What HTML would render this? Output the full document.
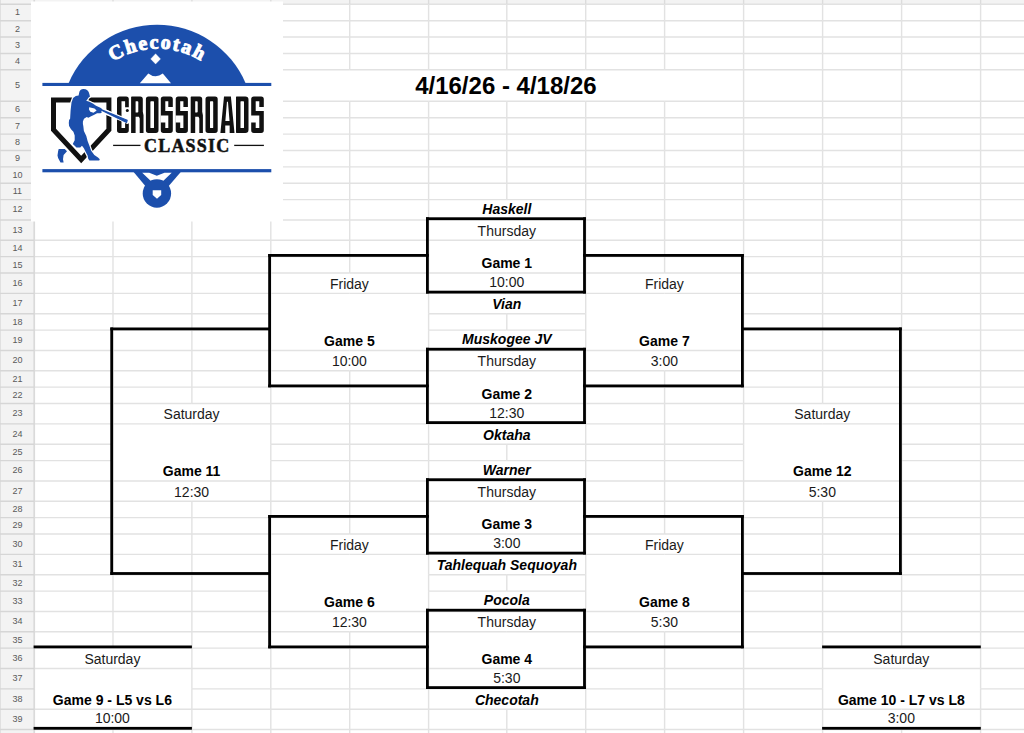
<!DOCTYPE html>
<html><head><meta charset="utf-8"><title>Bracket</title>
<style>html,body{margin:0;padding:0;background:#fff;width:1024px;height:733px;overflow:hidden;position:relative}</style>
</head><body>
<svg width="1024" height="733" viewBox="0 0 1024 733" style="position:absolute;left:0;top:0">
<rect x="0" y="0" width="1024" height="733" fill="#fff"/>
<rect x="0" y="0" width="1024" height="4.3" fill="#f3f3f3"/>
<rect x="0" y="0" width="34.4" height="733" fill="#f3f3f3"/>
<rect x="0" y="0" width="1" height="733" fill="#e0e0e0"/>
<line x1="34.4" y1="4.3" x2="113.0" y2="4.3" stroke="#e2e2e2" stroke-width="1.4"/>
<line x1="113.0" y1="4.3" x2="191.9" y2="4.3" stroke="#e2e2e2" stroke-width="1.4"/>
<line x1="191.9" y1="4.3" x2="270.8" y2="4.3" stroke="#e2e2e2" stroke-width="1.4"/>
<line x1="270.8" y1="4.3" x2="349.7" y2="4.3" stroke="#e2e2e2" stroke-width="1.4"/>
<line x1="349.7" y1="4.3" x2="428.6" y2="4.3" stroke="#e2e2e2" stroke-width="1.4"/>
<line x1="428.6" y1="4.3" x2="506.8" y2="4.3" stroke="#e2e2e2" stroke-width="1.4"/>
<line x1="506.8" y1="4.3" x2="585.7" y2="4.3" stroke="#e2e2e2" stroke-width="1.4"/>
<line x1="585.7" y1="4.3" x2="664.6" y2="4.3" stroke="#e2e2e2" stroke-width="1.4"/>
<line x1="664.6" y1="4.3" x2="743.6" y2="4.3" stroke="#e2e2e2" stroke-width="1.4"/>
<line x1="743.6" y1="4.3" x2="822.6" y2="4.3" stroke="#e2e2e2" stroke-width="1.4"/>
<line x1="822.6" y1="4.3" x2="901.6" y2="4.3" stroke="#e2e2e2" stroke-width="1.4"/>
<line x1="901.6" y1="4.3" x2="980.6" y2="4.3" stroke="#e2e2e2" stroke-width="1.4"/>
<line x1="980.6" y1="4.3" x2="1059.6" y2="4.3" stroke="#e2e2e2" stroke-width="1.4"/>
<line x1="34.4" y1="20.68" x2="113.0" y2="20.68" stroke="#e2e2e2" stroke-width="1.4"/>
<line x1="113.0" y1="20.68" x2="191.9" y2="20.68" stroke="#e2e2e2" stroke-width="1.4"/>
<line x1="191.9" y1="20.68" x2="270.8" y2="20.68" stroke="#e2e2e2" stroke-width="1.4"/>
<line x1="270.8" y1="20.68" x2="349.7" y2="20.68" stroke="#e2e2e2" stroke-width="1.4"/>
<line x1="349.7" y1="20.68" x2="428.6" y2="20.68" stroke="#e2e2e2" stroke-width="1.4"/>
<line x1="428.6" y1="20.68" x2="506.8" y2="20.68" stroke="#e2e2e2" stroke-width="1.4"/>
<line x1="506.8" y1="20.68" x2="585.7" y2="20.68" stroke="#e2e2e2" stroke-width="1.4"/>
<line x1="585.7" y1="20.68" x2="664.6" y2="20.68" stroke="#e2e2e2" stroke-width="1.4"/>
<line x1="664.6" y1="20.68" x2="743.6" y2="20.68" stroke="#e2e2e2" stroke-width="1.4"/>
<line x1="743.6" y1="20.68" x2="822.6" y2="20.68" stroke="#e2e2e2" stroke-width="1.4"/>
<line x1="822.6" y1="20.68" x2="901.6" y2="20.68" stroke="#e2e2e2" stroke-width="1.4"/>
<line x1="901.6" y1="20.68" x2="980.6" y2="20.68" stroke="#e2e2e2" stroke-width="1.4"/>
<line x1="980.6" y1="20.68" x2="1059.6" y2="20.68" stroke="#e2e2e2" stroke-width="1.4"/>
<line x1="34.4" y1="37.06" x2="113.0" y2="37.06" stroke="#e2e2e2" stroke-width="1.4"/>
<line x1="113.0" y1="37.06" x2="191.9" y2="37.06" stroke="#e2e2e2" stroke-width="1.4"/>
<line x1="191.9" y1="37.06" x2="270.8" y2="37.06" stroke="#e2e2e2" stroke-width="1.4"/>
<line x1="270.8" y1="37.06" x2="349.7" y2="37.06" stroke="#e2e2e2" stroke-width="1.4"/>
<line x1="349.7" y1="37.06" x2="428.6" y2="37.06" stroke="#e2e2e2" stroke-width="1.4"/>
<line x1="428.6" y1="37.06" x2="506.8" y2="37.06" stroke="#e2e2e2" stroke-width="1.4"/>
<line x1="506.8" y1="37.06" x2="585.7" y2="37.06" stroke="#e2e2e2" stroke-width="1.4"/>
<line x1="585.7" y1="37.06" x2="664.6" y2="37.06" stroke="#e2e2e2" stroke-width="1.4"/>
<line x1="664.6" y1="37.06" x2="743.6" y2="37.06" stroke="#e2e2e2" stroke-width="1.4"/>
<line x1="743.6" y1="37.06" x2="822.6" y2="37.06" stroke="#e2e2e2" stroke-width="1.4"/>
<line x1="822.6" y1="37.06" x2="901.6" y2="37.06" stroke="#e2e2e2" stroke-width="1.4"/>
<line x1="901.6" y1="37.06" x2="980.6" y2="37.06" stroke="#e2e2e2" stroke-width="1.4"/>
<line x1="980.6" y1="37.06" x2="1059.6" y2="37.06" stroke="#e2e2e2" stroke-width="1.4"/>
<line x1="34.4" y1="53.44" x2="113.0" y2="53.44" stroke="#e2e2e2" stroke-width="1.4"/>
<line x1="113.0" y1="53.44" x2="191.9" y2="53.44" stroke="#e2e2e2" stroke-width="1.4"/>
<line x1="191.9" y1="53.44" x2="270.8" y2="53.44" stroke="#e2e2e2" stroke-width="1.4"/>
<line x1="270.8" y1="53.44" x2="349.7" y2="53.44" stroke="#e2e2e2" stroke-width="1.4"/>
<line x1="349.7" y1="53.44" x2="428.6" y2="53.44" stroke="#e2e2e2" stroke-width="1.4"/>
<line x1="428.6" y1="53.44" x2="506.8" y2="53.44" stroke="#e2e2e2" stroke-width="1.4"/>
<line x1="506.8" y1="53.44" x2="585.7" y2="53.44" stroke="#e2e2e2" stroke-width="1.4"/>
<line x1="585.7" y1="53.44" x2="664.6" y2="53.44" stroke="#e2e2e2" stroke-width="1.4"/>
<line x1="664.6" y1="53.44" x2="743.6" y2="53.44" stroke="#e2e2e2" stroke-width="1.4"/>
<line x1="743.6" y1="53.44" x2="822.6" y2="53.44" stroke="#e2e2e2" stroke-width="1.4"/>
<line x1="822.6" y1="53.44" x2="901.6" y2="53.44" stroke="#e2e2e2" stroke-width="1.4"/>
<line x1="901.6" y1="53.44" x2="980.6" y2="53.44" stroke="#e2e2e2" stroke-width="1.4"/>
<line x1="980.6" y1="53.44" x2="1059.6" y2="53.44" stroke="#e2e2e2" stroke-width="1.4"/>
<line x1="34.4" y1="69.82" x2="113.0" y2="69.82" stroke="#e2e2e2" stroke-width="1.4"/>
<line x1="113.0" y1="69.82" x2="191.9" y2="69.82" stroke="#e2e2e2" stroke-width="1.4"/>
<line x1="191.9" y1="69.82" x2="270.8" y2="69.82" stroke="#e2e2e2" stroke-width="1.4"/>
<line x1="270.8" y1="69.82" x2="349.7" y2="69.82" stroke="#e2e2e2" stroke-width="1.4"/>
<line x1="349.7" y1="69.82" x2="428.6" y2="69.82" stroke="#e2e2e2" stroke-width="1.4"/>
<line x1="428.6" y1="69.82" x2="506.8" y2="69.82" stroke="#e2e2e2" stroke-width="1.4"/>
<line x1="506.8" y1="69.82" x2="585.7" y2="69.82" stroke="#e2e2e2" stroke-width="1.4"/>
<line x1="585.7" y1="69.82" x2="664.6" y2="69.82" stroke="#e2e2e2" stroke-width="1.4"/>
<line x1="664.6" y1="69.82" x2="743.6" y2="69.82" stroke="#e2e2e2" stroke-width="1.4"/>
<line x1="743.6" y1="69.82" x2="822.6" y2="69.82" stroke="#e2e2e2" stroke-width="1.4"/>
<line x1="822.6" y1="69.82" x2="901.6" y2="69.82" stroke="#e2e2e2" stroke-width="1.4"/>
<line x1="901.6" y1="69.82" x2="980.6" y2="69.82" stroke="#e2e2e2" stroke-width="1.4"/>
<line x1="980.6" y1="69.82" x2="1059.6" y2="69.82" stroke="#e2e2e2" stroke-width="1.4"/>
<line x1="34.4" y1="101.32" x2="113.0" y2="101.32" stroke="#e2e2e2" stroke-width="1.4"/>
<line x1="113.0" y1="101.32" x2="191.9" y2="101.32" stroke="#e2e2e2" stroke-width="1.4"/>
<line x1="191.9" y1="101.32" x2="270.8" y2="101.32" stroke="#e2e2e2" stroke-width="1.4"/>
<line x1="270.8" y1="101.32" x2="349.7" y2="101.32" stroke="#e2e2e2" stroke-width="1.4"/>
<line x1="349.7" y1="101.32" x2="428.6" y2="101.32" stroke="#e2e2e2" stroke-width="1.4"/>
<line x1="428.6" y1="101.32" x2="506.8" y2="101.32" stroke="#e2e2e2" stroke-width="1.4"/>
<line x1="506.8" y1="101.32" x2="585.7" y2="101.32" stroke="#e2e2e2" stroke-width="1.4"/>
<line x1="585.7" y1="101.32" x2="664.6" y2="101.32" stroke="#e2e2e2" stroke-width="1.4"/>
<line x1="664.6" y1="101.32" x2="743.6" y2="101.32" stroke="#e2e2e2" stroke-width="1.4"/>
<line x1="743.6" y1="101.32" x2="822.6" y2="101.32" stroke="#e2e2e2" stroke-width="1.4"/>
<line x1="822.6" y1="101.32" x2="901.6" y2="101.32" stroke="#e2e2e2" stroke-width="1.4"/>
<line x1="901.6" y1="101.32" x2="980.6" y2="101.32" stroke="#e2e2e2" stroke-width="1.4"/>
<line x1="980.6" y1="101.32" x2="1059.6" y2="101.32" stroke="#e2e2e2" stroke-width="1.4"/>
<line x1="34.4" y1="117.7" x2="113.0" y2="117.7" stroke="#e2e2e2" stroke-width="1.4"/>
<line x1="113.0" y1="117.7" x2="191.9" y2="117.7" stroke="#e2e2e2" stroke-width="1.4"/>
<line x1="191.9" y1="117.7" x2="270.8" y2="117.7" stroke="#e2e2e2" stroke-width="1.4"/>
<line x1="270.8" y1="117.7" x2="349.7" y2="117.7" stroke="#e2e2e2" stroke-width="1.4"/>
<line x1="349.7" y1="117.7" x2="428.6" y2="117.7" stroke="#e2e2e2" stroke-width="1.4"/>
<line x1="428.6" y1="117.7" x2="506.8" y2="117.7" stroke="#e2e2e2" stroke-width="1.4"/>
<line x1="506.8" y1="117.7" x2="585.7" y2="117.7" stroke="#e2e2e2" stroke-width="1.4"/>
<line x1="585.7" y1="117.7" x2="664.6" y2="117.7" stroke="#e2e2e2" stroke-width="1.4"/>
<line x1="664.6" y1="117.7" x2="743.6" y2="117.7" stroke="#e2e2e2" stroke-width="1.4"/>
<line x1="743.6" y1="117.7" x2="822.6" y2="117.7" stroke="#e2e2e2" stroke-width="1.4"/>
<line x1="822.6" y1="117.7" x2="901.6" y2="117.7" stroke="#e2e2e2" stroke-width="1.4"/>
<line x1="901.6" y1="117.7" x2="980.6" y2="117.7" stroke="#e2e2e2" stroke-width="1.4"/>
<line x1="980.6" y1="117.7" x2="1059.6" y2="117.7" stroke="#e2e2e2" stroke-width="1.4"/>
<line x1="34.4" y1="134.08" x2="113.0" y2="134.08" stroke="#e2e2e2" stroke-width="1.4"/>
<line x1="113.0" y1="134.08" x2="191.9" y2="134.08" stroke="#e2e2e2" stroke-width="1.4"/>
<line x1="191.9" y1="134.08" x2="270.8" y2="134.08" stroke="#e2e2e2" stroke-width="1.4"/>
<line x1="270.8" y1="134.08" x2="349.7" y2="134.08" stroke="#e2e2e2" stroke-width="1.4"/>
<line x1="349.7" y1="134.08" x2="428.6" y2="134.08" stroke="#e2e2e2" stroke-width="1.4"/>
<line x1="428.6" y1="134.08" x2="506.8" y2="134.08" stroke="#e2e2e2" stroke-width="1.4"/>
<line x1="506.8" y1="134.08" x2="585.7" y2="134.08" stroke="#e2e2e2" stroke-width="1.4"/>
<line x1="585.7" y1="134.08" x2="664.6" y2="134.08" stroke="#e2e2e2" stroke-width="1.4"/>
<line x1="664.6" y1="134.08" x2="743.6" y2="134.08" stroke="#e2e2e2" stroke-width="1.4"/>
<line x1="743.6" y1="134.08" x2="822.6" y2="134.08" stroke="#e2e2e2" stroke-width="1.4"/>
<line x1="822.6" y1="134.08" x2="901.6" y2="134.08" stroke="#e2e2e2" stroke-width="1.4"/>
<line x1="901.6" y1="134.08" x2="980.6" y2="134.08" stroke="#e2e2e2" stroke-width="1.4"/>
<line x1="980.6" y1="134.08" x2="1059.6" y2="134.08" stroke="#e2e2e2" stroke-width="1.4"/>
<line x1="34.4" y1="150.46" x2="113.0" y2="150.46" stroke="#e2e2e2" stroke-width="1.4"/>
<line x1="113.0" y1="150.46" x2="191.9" y2="150.46" stroke="#e2e2e2" stroke-width="1.4"/>
<line x1="191.9" y1="150.46" x2="270.8" y2="150.46" stroke="#e2e2e2" stroke-width="1.4"/>
<line x1="270.8" y1="150.46" x2="349.7" y2="150.46" stroke="#e2e2e2" stroke-width="1.4"/>
<line x1="349.7" y1="150.46" x2="428.6" y2="150.46" stroke="#e2e2e2" stroke-width="1.4"/>
<line x1="428.6" y1="150.46" x2="506.8" y2="150.46" stroke="#e2e2e2" stroke-width="1.4"/>
<line x1="506.8" y1="150.46" x2="585.7" y2="150.46" stroke="#e2e2e2" stroke-width="1.4"/>
<line x1="585.7" y1="150.46" x2="664.6" y2="150.46" stroke="#e2e2e2" stroke-width="1.4"/>
<line x1="664.6" y1="150.46" x2="743.6" y2="150.46" stroke="#e2e2e2" stroke-width="1.4"/>
<line x1="743.6" y1="150.46" x2="822.6" y2="150.46" stroke="#e2e2e2" stroke-width="1.4"/>
<line x1="822.6" y1="150.46" x2="901.6" y2="150.46" stroke="#e2e2e2" stroke-width="1.4"/>
<line x1="901.6" y1="150.46" x2="980.6" y2="150.46" stroke="#e2e2e2" stroke-width="1.4"/>
<line x1="980.6" y1="150.46" x2="1059.6" y2="150.46" stroke="#e2e2e2" stroke-width="1.4"/>
<line x1="34.4" y1="166.84" x2="113.0" y2="166.84" stroke="#e2e2e2" stroke-width="1.4"/>
<line x1="113.0" y1="166.84" x2="191.9" y2="166.84" stroke="#e2e2e2" stroke-width="1.4"/>
<line x1="191.9" y1="166.84" x2="270.8" y2="166.84" stroke="#e2e2e2" stroke-width="1.4"/>
<line x1="270.8" y1="166.84" x2="349.7" y2="166.84" stroke="#e2e2e2" stroke-width="1.4"/>
<line x1="349.7" y1="166.84" x2="428.6" y2="166.84" stroke="#e2e2e2" stroke-width="1.4"/>
<line x1="428.6" y1="166.84" x2="506.8" y2="166.84" stroke="#e2e2e2" stroke-width="1.4"/>
<line x1="506.8" y1="166.84" x2="585.7" y2="166.84" stroke="#e2e2e2" stroke-width="1.4"/>
<line x1="585.7" y1="166.84" x2="664.6" y2="166.84" stroke="#e2e2e2" stroke-width="1.4"/>
<line x1="664.6" y1="166.84" x2="743.6" y2="166.84" stroke="#e2e2e2" stroke-width="1.4"/>
<line x1="743.6" y1="166.84" x2="822.6" y2="166.84" stroke="#e2e2e2" stroke-width="1.4"/>
<line x1="822.6" y1="166.84" x2="901.6" y2="166.84" stroke="#e2e2e2" stroke-width="1.4"/>
<line x1="901.6" y1="166.84" x2="980.6" y2="166.84" stroke="#e2e2e2" stroke-width="1.4"/>
<line x1="980.6" y1="166.84" x2="1059.6" y2="166.84" stroke="#e2e2e2" stroke-width="1.4"/>
<line x1="34.4" y1="183.22" x2="113.0" y2="183.22" stroke="#e2e2e2" stroke-width="1.4"/>
<line x1="113.0" y1="183.22" x2="191.9" y2="183.22" stroke="#e2e2e2" stroke-width="1.4"/>
<line x1="191.9" y1="183.22" x2="270.8" y2="183.22" stroke="#e2e2e2" stroke-width="1.4"/>
<line x1="270.8" y1="183.22" x2="349.7" y2="183.22" stroke="#e2e2e2" stroke-width="1.4"/>
<line x1="349.7" y1="183.22" x2="428.6" y2="183.22" stroke="#e2e2e2" stroke-width="1.4"/>
<line x1="428.6" y1="183.22" x2="506.8" y2="183.22" stroke="#e2e2e2" stroke-width="1.4"/>
<line x1="506.8" y1="183.22" x2="585.7" y2="183.22" stroke="#e2e2e2" stroke-width="1.4"/>
<line x1="585.7" y1="183.22" x2="664.6" y2="183.22" stroke="#e2e2e2" stroke-width="1.4"/>
<line x1="664.6" y1="183.22" x2="743.6" y2="183.22" stroke="#e2e2e2" stroke-width="1.4"/>
<line x1="743.6" y1="183.22" x2="822.6" y2="183.22" stroke="#e2e2e2" stroke-width="1.4"/>
<line x1="822.6" y1="183.22" x2="901.6" y2="183.22" stroke="#e2e2e2" stroke-width="1.4"/>
<line x1="901.6" y1="183.22" x2="980.6" y2="183.22" stroke="#e2e2e2" stroke-width="1.4"/>
<line x1="980.6" y1="183.22" x2="1059.6" y2="183.22" stroke="#e2e2e2" stroke-width="1.4"/>
<line x1="34.4" y1="199.6" x2="113.0" y2="199.6" stroke="#e2e2e2" stroke-width="1.4"/>
<line x1="113.0" y1="199.6" x2="191.9" y2="199.6" stroke="#e2e2e2" stroke-width="1.4"/>
<line x1="191.9" y1="199.6" x2="270.8" y2="199.6" stroke="#e2e2e2" stroke-width="1.4"/>
<line x1="270.8" y1="199.6" x2="349.7" y2="199.6" stroke="#e2e2e2" stroke-width="1.4"/>
<line x1="349.7" y1="199.6" x2="428.6" y2="199.6" stroke="#e2e2e2" stroke-width="1.4"/>
<line x1="428.6" y1="199.6" x2="506.8" y2="199.6" stroke="#e2e2e2" stroke-width="1.4"/>
<line x1="506.8" y1="199.6" x2="585.7" y2="199.6" stroke="#e2e2e2" stroke-width="1.4"/>
<line x1="585.7" y1="199.6" x2="664.6" y2="199.6" stroke="#e2e2e2" stroke-width="1.4"/>
<line x1="664.6" y1="199.6" x2="743.6" y2="199.6" stroke="#e2e2e2" stroke-width="1.4"/>
<line x1="743.6" y1="199.6" x2="822.6" y2="199.6" stroke="#e2e2e2" stroke-width="1.4"/>
<line x1="822.6" y1="199.6" x2="901.6" y2="199.6" stroke="#e2e2e2" stroke-width="1.4"/>
<line x1="901.6" y1="199.6" x2="980.6" y2="199.6" stroke="#e2e2e2" stroke-width="1.4"/>
<line x1="980.6" y1="199.6" x2="1059.6" y2="199.6" stroke="#e2e2e2" stroke-width="1.4"/>
<line x1="34.4" y1="219.94" x2="113.0" y2="219.94" stroke="#e2e2e2" stroke-width="1.4"/>
<line x1="113.0" y1="219.94" x2="191.9" y2="219.94" stroke="#e2e2e2" stroke-width="1.4"/>
<line x1="191.9" y1="219.94" x2="270.8" y2="219.94" stroke="#e2e2e2" stroke-width="1.4"/>
<line x1="270.8" y1="219.94" x2="349.7" y2="219.94" stroke="#e2e2e2" stroke-width="1.4"/>
<line x1="349.7" y1="219.94" x2="428.6" y2="219.94" stroke="#e2e2e2" stroke-width="1.4"/>
<line x1="428.6" y1="219.94" x2="506.8" y2="219.94" stroke="#e2e2e2" stroke-width="1.4"/>
<line x1="506.8" y1="219.94" x2="585.7" y2="219.94" stroke="#e2e2e2" stroke-width="1.4"/>
<line x1="585.7" y1="219.94" x2="664.6" y2="219.94" stroke="#e2e2e2" stroke-width="1.4"/>
<line x1="664.6" y1="219.94" x2="743.6" y2="219.94" stroke="#e2e2e2" stroke-width="1.4"/>
<line x1="743.6" y1="219.94" x2="822.6" y2="219.94" stroke="#e2e2e2" stroke-width="1.4"/>
<line x1="822.6" y1="219.94" x2="901.6" y2="219.94" stroke="#e2e2e2" stroke-width="1.4"/>
<line x1="901.6" y1="219.94" x2="980.6" y2="219.94" stroke="#e2e2e2" stroke-width="1.4"/>
<line x1="980.6" y1="219.94" x2="1059.6" y2="219.94" stroke="#e2e2e2" stroke-width="1.4"/>
<line x1="34.4" y1="240.28" x2="113.0" y2="240.28" stroke="#e2e2e2" stroke-width="1.4"/>
<line x1="113.0" y1="240.28" x2="191.9" y2="240.28" stroke="#e2e2e2" stroke-width="1.4"/>
<line x1="191.9" y1="240.28" x2="270.8" y2="240.28" stroke="#e2e2e2" stroke-width="1.4"/>
<line x1="270.8" y1="240.28" x2="349.7" y2="240.28" stroke="#e2e2e2" stroke-width="1.4"/>
<line x1="349.7" y1="240.28" x2="428.6" y2="240.28" stroke="#e2e2e2" stroke-width="1.4"/>
<line x1="428.6" y1="240.28" x2="506.8" y2="240.28" stroke="#e2e2e2" stroke-width="1.4"/>
<line x1="506.8" y1="240.28" x2="585.7" y2="240.28" stroke="#e2e2e2" stroke-width="1.4"/>
<line x1="585.7" y1="240.28" x2="664.6" y2="240.28" stroke="#e2e2e2" stroke-width="1.4"/>
<line x1="664.6" y1="240.28" x2="743.6" y2="240.28" stroke="#e2e2e2" stroke-width="1.4"/>
<line x1="743.6" y1="240.28" x2="822.6" y2="240.28" stroke="#e2e2e2" stroke-width="1.4"/>
<line x1="822.6" y1="240.28" x2="901.6" y2="240.28" stroke="#e2e2e2" stroke-width="1.4"/>
<line x1="901.6" y1="240.28" x2="980.6" y2="240.28" stroke="#e2e2e2" stroke-width="1.4"/>
<line x1="980.6" y1="240.28" x2="1059.6" y2="240.28" stroke="#e2e2e2" stroke-width="1.4"/>
<line x1="34.4" y1="256.66" x2="113.0" y2="256.66" stroke="#e2e2e2" stroke-width="1.4"/>
<line x1="113.0" y1="256.66" x2="191.9" y2="256.66" stroke="#e2e2e2" stroke-width="1.4"/>
<line x1="191.9" y1="256.66" x2="270.8" y2="256.66" stroke="#e2e2e2" stroke-width="1.4"/>
<line x1="270.8" y1="256.66" x2="349.7" y2="256.66" stroke="#e2e2e2" stroke-width="1.4"/>
<line x1="349.7" y1="256.66" x2="428.6" y2="256.66" stroke="#e2e2e2" stroke-width="1.4"/>
<line x1="585.7" y1="256.66" x2="664.6" y2="256.66" stroke="#e2e2e2" stroke-width="1.4"/>
<line x1="664.6" y1="256.66" x2="743.6" y2="256.66" stroke="#e2e2e2" stroke-width="1.4"/>
<line x1="743.6" y1="256.66" x2="822.6" y2="256.66" stroke="#e2e2e2" stroke-width="1.4"/>
<line x1="822.6" y1="256.66" x2="901.6" y2="256.66" stroke="#e2e2e2" stroke-width="1.4"/>
<line x1="901.6" y1="256.66" x2="980.6" y2="256.66" stroke="#e2e2e2" stroke-width="1.4"/>
<line x1="980.6" y1="256.66" x2="1059.6" y2="256.66" stroke="#e2e2e2" stroke-width="1.4"/>
<line x1="34.4" y1="273.04" x2="113.0" y2="273.04" stroke="#e2e2e2" stroke-width="1.4"/>
<line x1="113.0" y1="273.04" x2="191.9" y2="273.04" stroke="#e2e2e2" stroke-width="1.4"/>
<line x1="191.9" y1="273.04" x2="270.8" y2="273.04" stroke="#e2e2e2" stroke-width="1.4"/>
<line x1="270.8" y1="273.04" x2="349.7" y2="273.04" stroke="#e2e2e2" stroke-width="1.4"/>
<line x1="349.7" y1="273.04" x2="428.6" y2="273.04" stroke="#e2e2e2" stroke-width="1.4"/>
<line x1="428.6" y1="273.04" x2="506.8" y2="273.04" stroke="#e2e2e2" stroke-width="1.4"/>
<line x1="506.8" y1="273.04" x2="585.7" y2="273.04" stroke="#e2e2e2" stroke-width="1.4"/>
<line x1="585.7" y1="273.04" x2="664.6" y2="273.04" stroke="#e2e2e2" stroke-width="1.4"/>
<line x1="664.6" y1="273.04" x2="743.6" y2="273.04" stroke="#e2e2e2" stroke-width="1.4"/>
<line x1="743.6" y1="273.04" x2="822.6" y2="273.04" stroke="#e2e2e2" stroke-width="1.4"/>
<line x1="822.6" y1="273.04" x2="901.6" y2="273.04" stroke="#e2e2e2" stroke-width="1.4"/>
<line x1="901.6" y1="273.04" x2="980.6" y2="273.04" stroke="#e2e2e2" stroke-width="1.4"/>
<line x1="980.6" y1="273.04" x2="1059.6" y2="273.04" stroke="#e2e2e2" stroke-width="1.4"/>
<line x1="34.4" y1="293.38" x2="113.0" y2="293.38" stroke="#e2e2e2" stroke-width="1.4"/>
<line x1="113.0" y1="293.38" x2="191.9" y2="293.38" stroke="#e2e2e2" stroke-width="1.4"/>
<line x1="191.9" y1="293.38" x2="270.8" y2="293.38" stroke="#e2e2e2" stroke-width="1.4"/>
<line x1="270.8" y1="293.38" x2="349.7" y2="293.38" stroke="#e2e2e2" stroke-width="1.4"/>
<line x1="349.7" y1="293.38" x2="428.6" y2="293.38" stroke="#e2e2e2" stroke-width="1.4"/>
<line x1="428.6" y1="293.38" x2="506.8" y2="293.38" stroke="#e2e2e2" stroke-width="1.4"/>
<line x1="506.8" y1="293.38" x2="585.7" y2="293.38" stroke="#e2e2e2" stroke-width="1.4"/>
<line x1="585.7" y1="293.38" x2="664.6" y2="293.38" stroke="#e2e2e2" stroke-width="1.4"/>
<line x1="664.6" y1="293.38" x2="743.6" y2="293.38" stroke="#e2e2e2" stroke-width="1.4"/>
<line x1="743.6" y1="293.38" x2="822.6" y2="293.38" stroke="#e2e2e2" stroke-width="1.4"/>
<line x1="822.6" y1="293.38" x2="901.6" y2="293.38" stroke="#e2e2e2" stroke-width="1.4"/>
<line x1="901.6" y1="293.38" x2="980.6" y2="293.38" stroke="#e2e2e2" stroke-width="1.4"/>
<line x1="980.6" y1="293.38" x2="1059.6" y2="293.38" stroke="#e2e2e2" stroke-width="1.4"/>
<line x1="34.4" y1="313.72" x2="113.0" y2="313.72" stroke="#e2e2e2" stroke-width="1.4"/>
<line x1="113.0" y1="313.72" x2="191.9" y2="313.72" stroke="#e2e2e2" stroke-width="1.4"/>
<line x1="191.9" y1="313.72" x2="270.8" y2="313.72" stroke="#e2e2e2" stroke-width="1.4"/>
<line x1="428.6" y1="313.72" x2="506.8" y2="313.72" stroke="#e2e2e2" stroke-width="1.4"/>
<line x1="506.8" y1="313.72" x2="585.7" y2="313.72" stroke="#e2e2e2" stroke-width="1.4"/>
<line x1="743.6" y1="313.72" x2="822.6" y2="313.72" stroke="#e2e2e2" stroke-width="1.4"/>
<line x1="822.6" y1="313.72" x2="901.6" y2="313.72" stroke="#e2e2e2" stroke-width="1.4"/>
<line x1="901.6" y1="313.72" x2="980.6" y2="313.72" stroke="#e2e2e2" stroke-width="1.4"/>
<line x1="980.6" y1="313.72" x2="1059.6" y2="313.72" stroke="#e2e2e2" stroke-width="1.4"/>
<line x1="34.4" y1="330.1" x2="113.0" y2="330.1" stroke="#e2e2e2" stroke-width="1.4"/>
<line x1="113.0" y1="330.1" x2="191.9" y2="330.1" stroke="#e2e2e2" stroke-width="1.4"/>
<line x1="191.9" y1="330.1" x2="270.8" y2="330.1" stroke="#e2e2e2" stroke-width="1.4"/>
<line x1="428.6" y1="330.1" x2="506.8" y2="330.1" stroke="#e2e2e2" stroke-width="1.4"/>
<line x1="506.8" y1="330.1" x2="585.7" y2="330.1" stroke="#e2e2e2" stroke-width="1.4"/>
<line x1="743.6" y1="330.1" x2="822.6" y2="330.1" stroke="#e2e2e2" stroke-width="1.4"/>
<line x1="822.6" y1="330.1" x2="901.6" y2="330.1" stroke="#e2e2e2" stroke-width="1.4"/>
<line x1="901.6" y1="330.1" x2="980.6" y2="330.1" stroke="#e2e2e2" stroke-width="1.4"/>
<line x1="980.6" y1="330.1" x2="1059.6" y2="330.1" stroke="#e2e2e2" stroke-width="1.4"/>
<line x1="34.4" y1="350.44" x2="113.0" y2="350.44" stroke="#e2e2e2" stroke-width="1.4"/>
<line x1="113.0" y1="350.44" x2="191.9" y2="350.44" stroke="#e2e2e2" stroke-width="1.4"/>
<line x1="191.9" y1="350.44" x2="270.8" y2="350.44" stroke="#e2e2e2" stroke-width="1.4"/>
<line x1="270.8" y1="350.44" x2="349.7" y2="350.44" stroke="#e2e2e2" stroke-width="1.4"/>
<line x1="349.7" y1="350.44" x2="428.6" y2="350.44" stroke="#e2e2e2" stroke-width="1.4"/>
<line x1="428.6" y1="350.44" x2="506.8" y2="350.44" stroke="#e2e2e2" stroke-width="1.4"/>
<line x1="506.8" y1="350.44" x2="585.7" y2="350.44" stroke="#e2e2e2" stroke-width="1.4"/>
<line x1="585.7" y1="350.44" x2="664.6" y2="350.44" stroke="#e2e2e2" stroke-width="1.4"/>
<line x1="664.6" y1="350.44" x2="743.6" y2="350.44" stroke="#e2e2e2" stroke-width="1.4"/>
<line x1="743.6" y1="350.44" x2="822.6" y2="350.44" stroke="#e2e2e2" stroke-width="1.4"/>
<line x1="822.6" y1="350.44" x2="901.6" y2="350.44" stroke="#e2e2e2" stroke-width="1.4"/>
<line x1="901.6" y1="350.44" x2="980.6" y2="350.44" stroke="#e2e2e2" stroke-width="1.4"/>
<line x1="980.6" y1="350.44" x2="1059.6" y2="350.44" stroke="#e2e2e2" stroke-width="1.4"/>
<line x1="34.4" y1="370.78" x2="113.0" y2="370.78" stroke="#e2e2e2" stroke-width="1.4"/>
<line x1="113.0" y1="370.78" x2="191.9" y2="370.78" stroke="#e2e2e2" stroke-width="1.4"/>
<line x1="191.9" y1="370.78" x2="270.8" y2="370.78" stroke="#e2e2e2" stroke-width="1.4"/>
<line x1="270.8" y1="370.78" x2="349.7" y2="370.78" stroke="#e2e2e2" stroke-width="1.4"/>
<line x1="349.7" y1="370.78" x2="428.6" y2="370.78" stroke="#e2e2e2" stroke-width="1.4"/>
<line x1="428.6" y1="370.78" x2="506.8" y2="370.78" stroke="#e2e2e2" stroke-width="1.4"/>
<line x1="506.8" y1="370.78" x2="585.7" y2="370.78" stroke="#e2e2e2" stroke-width="1.4"/>
<line x1="585.7" y1="370.78" x2="664.6" y2="370.78" stroke="#e2e2e2" stroke-width="1.4"/>
<line x1="664.6" y1="370.78" x2="743.6" y2="370.78" stroke="#e2e2e2" stroke-width="1.4"/>
<line x1="743.6" y1="370.78" x2="822.6" y2="370.78" stroke="#e2e2e2" stroke-width="1.4"/>
<line x1="822.6" y1="370.78" x2="901.6" y2="370.78" stroke="#e2e2e2" stroke-width="1.4"/>
<line x1="901.6" y1="370.78" x2="980.6" y2="370.78" stroke="#e2e2e2" stroke-width="1.4"/>
<line x1="980.6" y1="370.78" x2="1059.6" y2="370.78" stroke="#e2e2e2" stroke-width="1.4"/>
<line x1="34.4" y1="387.16" x2="113.0" y2="387.16" stroke="#e2e2e2" stroke-width="1.4"/>
<line x1="113.0" y1="387.16" x2="191.9" y2="387.16" stroke="#e2e2e2" stroke-width="1.4"/>
<line x1="191.9" y1="387.16" x2="270.8" y2="387.16" stroke="#e2e2e2" stroke-width="1.4"/>
<line x1="270.8" y1="387.16" x2="349.7" y2="387.16" stroke="#e2e2e2" stroke-width="1.4"/>
<line x1="349.7" y1="387.16" x2="428.6" y2="387.16" stroke="#e2e2e2" stroke-width="1.4"/>
<line x1="585.7" y1="387.16" x2="664.6" y2="387.16" stroke="#e2e2e2" stroke-width="1.4"/>
<line x1="664.6" y1="387.16" x2="743.6" y2="387.16" stroke="#e2e2e2" stroke-width="1.4"/>
<line x1="743.6" y1="387.16" x2="822.6" y2="387.16" stroke="#e2e2e2" stroke-width="1.4"/>
<line x1="822.6" y1="387.16" x2="901.6" y2="387.16" stroke="#e2e2e2" stroke-width="1.4"/>
<line x1="901.6" y1="387.16" x2="980.6" y2="387.16" stroke="#e2e2e2" stroke-width="1.4"/>
<line x1="980.6" y1="387.16" x2="1059.6" y2="387.16" stroke="#e2e2e2" stroke-width="1.4"/>
<line x1="34.4" y1="403.54" x2="113.0" y2="403.54" stroke="#e2e2e2" stroke-width="1.4"/>
<line x1="113.0" y1="403.54" x2="191.9" y2="403.54" stroke="#e2e2e2" stroke-width="1.4"/>
<line x1="191.9" y1="403.54" x2="270.8" y2="403.54" stroke="#e2e2e2" stroke-width="1.4"/>
<line x1="270.8" y1="403.54" x2="349.7" y2="403.54" stroke="#e2e2e2" stroke-width="1.4"/>
<line x1="349.7" y1="403.54" x2="428.6" y2="403.54" stroke="#e2e2e2" stroke-width="1.4"/>
<line x1="428.6" y1="403.54" x2="506.8" y2="403.54" stroke="#e2e2e2" stroke-width="1.4"/>
<line x1="506.8" y1="403.54" x2="585.7" y2="403.54" stroke="#e2e2e2" stroke-width="1.4"/>
<line x1="585.7" y1="403.54" x2="664.6" y2="403.54" stroke="#e2e2e2" stroke-width="1.4"/>
<line x1="664.6" y1="403.54" x2="743.6" y2="403.54" stroke="#e2e2e2" stroke-width="1.4"/>
<line x1="743.6" y1="403.54" x2="822.6" y2="403.54" stroke="#e2e2e2" stroke-width="1.4"/>
<line x1="822.6" y1="403.54" x2="901.6" y2="403.54" stroke="#e2e2e2" stroke-width="1.4"/>
<line x1="901.6" y1="403.54" x2="980.6" y2="403.54" stroke="#e2e2e2" stroke-width="1.4"/>
<line x1="980.6" y1="403.54" x2="1059.6" y2="403.54" stroke="#e2e2e2" stroke-width="1.4"/>
<line x1="34.4" y1="423.88" x2="113.0" y2="423.88" stroke="#e2e2e2" stroke-width="1.4"/>
<line x1="113.0" y1="423.88" x2="191.9" y2="423.88" stroke="#e2e2e2" stroke-width="1.4"/>
<line x1="191.9" y1="423.88" x2="270.8" y2="423.88" stroke="#e2e2e2" stroke-width="1.4"/>
<line x1="270.8" y1="423.88" x2="349.7" y2="423.88" stroke="#e2e2e2" stroke-width="1.4"/>
<line x1="349.7" y1="423.88" x2="428.6" y2="423.88" stroke="#e2e2e2" stroke-width="1.4"/>
<line x1="428.6" y1="423.88" x2="506.8" y2="423.88" stroke="#e2e2e2" stroke-width="1.4"/>
<line x1="506.8" y1="423.88" x2="585.7" y2="423.88" stroke="#e2e2e2" stroke-width="1.4"/>
<line x1="585.7" y1="423.88" x2="664.6" y2="423.88" stroke="#e2e2e2" stroke-width="1.4"/>
<line x1="664.6" y1="423.88" x2="743.6" y2="423.88" stroke="#e2e2e2" stroke-width="1.4"/>
<line x1="743.6" y1="423.88" x2="822.6" y2="423.88" stroke="#e2e2e2" stroke-width="1.4"/>
<line x1="822.6" y1="423.88" x2="901.6" y2="423.88" stroke="#e2e2e2" stroke-width="1.4"/>
<line x1="901.6" y1="423.88" x2="980.6" y2="423.88" stroke="#e2e2e2" stroke-width="1.4"/>
<line x1="980.6" y1="423.88" x2="1059.6" y2="423.88" stroke="#e2e2e2" stroke-width="1.4"/>
<line x1="34.4" y1="444.22" x2="113.0" y2="444.22" stroke="#e2e2e2" stroke-width="1.4"/>
<line x1="270.8" y1="444.22" x2="349.7" y2="444.22" stroke="#e2e2e2" stroke-width="1.4"/>
<line x1="349.7" y1="444.22" x2="428.6" y2="444.22" stroke="#e2e2e2" stroke-width="1.4"/>
<line x1="428.6" y1="444.22" x2="506.8" y2="444.22" stroke="#e2e2e2" stroke-width="1.4"/>
<line x1="506.8" y1="444.22" x2="585.7" y2="444.22" stroke="#e2e2e2" stroke-width="1.4"/>
<line x1="585.7" y1="444.22" x2="664.6" y2="444.22" stroke="#e2e2e2" stroke-width="1.4"/>
<line x1="664.6" y1="444.22" x2="743.6" y2="444.22" stroke="#e2e2e2" stroke-width="1.4"/>
<line x1="901.6" y1="444.22" x2="980.6" y2="444.22" stroke="#e2e2e2" stroke-width="1.4"/>
<line x1="980.6" y1="444.22" x2="1059.6" y2="444.22" stroke="#e2e2e2" stroke-width="1.4"/>
<line x1="34.4" y1="460.6" x2="113.0" y2="460.6" stroke="#e2e2e2" stroke-width="1.4"/>
<line x1="270.8" y1="460.6" x2="349.7" y2="460.6" stroke="#e2e2e2" stroke-width="1.4"/>
<line x1="349.7" y1="460.6" x2="428.6" y2="460.6" stroke="#e2e2e2" stroke-width="1.4"/>
<line x1="428.6" y1="460.6" x2="506.8" y2="460.6" stroke="#e2e2e2" stroke-width="1.4"/>
<line x1="506.8" y1="460.6" x2="585.7" y2="460.6" stroke="#e2e2e2" stroke-width="1.4"/>
<line x1="585.7" y1="460.6" x2="664.6" y2="460.6" stroke="#e2e2e2" stroke-width="1.4"/>
<line x1="664.6" y1="460.6" x2="743.6" y2="460.6" stroke="#e2e2e2" stroke-width="1.4"/>
<line x1="901.6" y1="460.6" x2="980.6" y2="460.6" stroke="#e2e2e2" stroke-width="1.4"/>
<line x1="980.6" y1="460.6" x2="1059.6" y2="460.6" stroke="#e2e2e2" stroke-width="1.4"/>
<line x1="34.4" y1="480.94" x2="113.0" y2="480.94" stroke="#e2e2e2" stroke-width="1.4"/>
<line x1="113.0" y1="480.94" x2="191.9" y2="480.94" stroke="#e2e2e2" stroke-width="1.4"/>
<line x1="191.9" y1="480.94" x2="270.8" y2="480.94" stroke="#e2e2e2" stroke-width="1.4"/>
<line x1="270.8" y1="480.94" x2="349.7" y2="480.94" stroke="#e2e2e2" stroke-width="1.4"/>
<line x1="349.7" y1="480.94" x2="428.6" y2="480.94" stroke="#e2e2e2" stroke-width="1.4"/>
<line x1="428.6" y1="480.94" x2="506.8" y2="480.94" stroke="#e2e2e2" stroke-width="1.4"/>
<line x1="506.8" y1="480.94" x2="585.7" y2="480.94" stroke="#e2e2e2" stroke-width="1.4"/>
<line x1="585.7" y1="480.94" x2="664.6" y2="480.94" stroke="#e2e2e2" stroke-width="1.4"/>
<line x1="664.6" y1="480.94" x2="743.6" y2="480.94" stroke="#e2e2e2" stroke-width="1.4"/>
<line x1="743.6" y1="480.94" x2="822.6" y2="480.94" stroke="#e2e2e2" stroke-width="1.4"/>
<line x1="822.6" y1="480.94" x2="901.6" y2="480.94" stroke="#e2e2e2" stroke-width="1.4"/>
<line x1="901.6" y1="480.94" x2="980.6" y2="480.94" stroke="#e2e2e2" stroke-width="1.4"/>
<line x1="980.6" y1="480.94" x2="1059.6" y2="480.94" stroke="#e2e2e2" stroke-width="1.4"/>
<line x1="34.4" y1="501.28" x2="113.0" y2="501.28" stroke="#e2e2e2" stroke-width="1.4"/>
<line x1="113.0" y1="501.28" x2="191.9" y2="501.28" stroke="#e2e2e2" stroke-width="1.4"/>
<line x1="191.9" y1="501.28" x2="270.8" y2="501.28" stroke="#e2e2e2" stroke-width="1.4"/>
<line x1="270.8" y1="501.28" x2="349.7" y2="501.28" stroke="#e2e2e2" stroke-width="1.4"/>
<line x1="349.7" y1="501.28" x2="428.6" y2="501.28" stroke="#e2e2e2" stroke-width="1.4"/>
<line x1="428.6" y1="501.28" x2="506.8" y2="501.28" stroke="#e2e2e2" stroke-width="1.4"/>
<line x1="506.8" y1="501.28" x2="585.7" y2="501.28" stroke="#e2e2e2" stroke-width="1.4"/>
<line x1="585.7" y1="501.28" x2="664.6" y2="501.28" stroke="#e2e2e2" stroke-width="1.4"/>
<line x1="664.6" y1="501.28" x2="743.6" y2="501.28" stroke="#e2e2e2" stroke-width="1.4"/>
<line x1="743.6" y1="501.28" x2="822.6" y2="501.28" stroke="#e2e2e2" stroke-width="1.4"/>
<line x1="822.6" y1="501.28" x2="901.6" y2="501.28" stroke="#e2e2e2" stroke-width="1.4"/>
<line x1="901.6" y1="501.28" x2="980.6" y2="501.28" stroke="#e2e2e2" stroke-width="1.4"/>
<line x1="980.6" y1="501.28" x2="1059.6" y2="501.28" stroke="#e2e2e2" stroke-width="1.4"/>
<line x1="34.4" y1="517.66" x2="113.0" y2="517.66" stroke="#e2e2e2" stroke-width="1.4"/>
<line x1="113.0" y1="517.66" x2="191.9" y2="517.66" stroke="#e2e2e2" stroke-width="1.4"/>
<line x1="191.9" y1="517.66" x2="270.8" y2="517.66" stroke="#e2e2e2" stroke-width="1.4"/>
<line x1="270.8" y1="517.66" x2="349.7" y2="517.66" stroke="#e2e2e2" stroke-width="1.4"/>
<line x1="349.7" y1="517.66" x2="428.6" y2="517.66" stroke="#e2e2e2" stroke-width="1.4"/>
<line x1="585.7" y1="517.66" x2="664.6" y2="517.66" stroke="#e2e2e2" stroke-width="1.4"/>
<line x1="664.6" y1="517.66" x2="743.6" y2="517.66" stroke="#e2e2e2" stroke-width="1.4"/>
<line x1="743.6" y1="517.66" x2="822.6" y2="517.66" stroke="#e2e2e2" stroke-width="1.4"/>
<line x1="822.6" y1="517.66" x2="901.6" y2="517.66" stroke="#e2e2e2" stroke-width="1.4"/>
<line x1="901.6" y1="517.66" x2="980.6" y2="517.66" stroke="#e2e2e2" stroke-width="1.4"/>
<line x1="980.6" y1="517.66" x2="1059.6" y2="517.66" stroke="#e2e2e2" stroke-width="1.4"/>
<line x1="34.4" y1="534.04" x2="113.0" y2="534.04" stroke="#e2e2e2" stroke-width="1.4"/>
<line x1="113.0" y1="534.04" x2="191.9" y2="534.04" stroke="#e2e2e2" stroke-width="1.4"/>
<line x1="191.9" y1="534.04" x2="270.8" y2="534.04" stroke="#e2e2e2" stroke-width="1.4"/>
<line x1="270.8" y1="534.04" x2="349.7" y2="534.04" stroke="#e2e2e2" stroke-width="1.4"/>
<line x1="349.7" y1="534.04" x2="428.6" y2="534.04" stroke="#e2e2e2" stroke-width="1.4"/>
<line x1="428.6" y1="534.04" x2="506.8" y2="534.04" stroke="#e2e2e2" stroke-width="1.4"/>
<line x1="506.8" y1="534.04" x2="585.7" y2="534.04" stroke="#e2e2e2" stroke-width="1.4"/>
<line x1="585.7" y1="534.04" x2="664.6" y2="534.04" stroke="#e2e2e2" stroke-width="1.4"/>
<line x1="664.6" y1="534.04" x2="743.6" y2="534.04" stroke="#e2e2e2" stroke-width="1.4"/>
<line x1="743.6" y1="534.04" x2="822.6" y2="534.04" stroke="#e2e2e2" stroke-width="1.4"/>
<line x1="822.6" y1="534.04" x2="901.6" y2="534.04" stroke="#e2e2e2" stroke-width="1.4"/>
<line x1="901.6" y1="534.04" x2="980.6" y2="534.04" stroke="#e2e2e2" stroke-width="1.4"/>
<line x1="980.6" y1="534.04" x2="1059.6" y2="534.04" stroke="#e2e2e2" stroke-width="1.4"/>
<line x1="34.4" y1="554.38" x2="113.0" y2="554.38" stroke="#e2e2e2" stroke-width="1.4"/>
<line x1="113.0" y1="554.38" x2="191.9" y2="554.38" stroke="#e2e2e2" stroke-width="1.4"/>
<line x1="191.9" y1="554.38" x2="270.8" y2="554.38" stroke="#e2e2e2" stroke-width="1.4"/>
<line x1="270.8" y1="554.38" x2="349.7" y2="554.38" stroke="#e2e2e2" stroke-width="1.4"/>
<line x1="349.7" y1="554.38" x2="428.6" y2="554.38" stroke="#e2e2e2" stroke-width="1.4"/>
<line x1="428.6" y1="554.38" x2="506.8" y2="554.38" stroke="#e2e2e2" stroke-width="1.4"/>
<line x1="506.8" y1="554.38" x2="585.7" y2="554.38" stroke="#e2e2e2" stroke-width="1.4"/>
<line x1="585.7" y1="554.38" x2="664.6" y2="554.38" stroke="#e2e2e2" stroke-width="1.4"/>
<line x1="664.6" y1="554.38" x2="743.6" y2="554.38" stroke="#e2e2e2" stroke-width="1.4"/>
<line x1="743.6" y1="554.38" x2="822.6" y2="554.38" stroke="#e2e2e2" stroke-width="1.4"/>
<line x1="822.6" y1="554.38" x2="901.6" y2="554.38" stroke="#e2e2e2" stroke-width="1.4"/>
<line x1="901.6" y1="554.38" x2="980.6" y2="554.38" stroke="#e2e2e2" stroke-width="1.4"/>
<line x1="980.6" y1="554.38" x2="1059.6" y2="554.38" stroke="#e2e2e2" stroke-width="1.4"/>
<line x1="34.4" y1="574.72" x2="113.0" y2="574.72" stroke="#e2e2e2" stroke-width="1.4"/>
<line x1="113.0" y1="574.72" x2="191.9" y2="574.72" stroke="#e2e2e2" stroke-width="1.4"/>
<line x1="191.9" y1="574.72" x2="270.8" y2="574.72" stroke="#e2e2e2" stroke-width="1.4"/>
<line x1="428.6" y1="574.72" x2="506.8" y2="574.72" stroke="#e2e2e2" stroke-width="1.4"/>
<line x1="506.8" y1="574.72" x2="585.7" y2="574.72" stroke="#e2e2e2" stroke-width="1.4"/>
<line x1="743.6" y1="574.72" x2="822.6" y2="574.72" stroke="#e2e2e2" stroke-width="1.4"/>
<line x1="822.6" y1="574.72" x2="901.6" y2="574.72" stroke="#e2e2e2" stroke-width="1.4"/>
<line x1="901.6" y1="574.72" x2="980.6" y2="574.72" stroke="#e2e2e2" stroke-width="1.4"/>
<line x1="980.6" y1="574.72" x2="1059.6" y2="574.72" stroke="#e2e2e2" stroke-width="1.4"/>
<line x1="34.4" y1="591.1" x2="113.0" y2="591.1" stroke="#e2e2e2" stroke-width="1.4"/>
<line x1="113.0" y1="591.1" x2="191.9" y2="591.1" stroke="#e2e2e2" stroke-width="1.4"/>
<line x1="191.9" y1="591.1" x2="270.8" y2="591.1" stroke="#e2e2e2" stroke-width="1.4"/>
<line x1="428.6" y1="591.1" x2="506.8" y2="591.1" stroke="#e2e2e2" stroke-width="1.4"/>
<line x1="506.8" y1="591.1" x2="585.7" y2="591.1" stroke="#e2e2e2" stroke-width="1.4"/>
<line x1="743.6" y1="591.1" x2="822.6" y2="591.1" stroke="#e2e2e2" stroke-width="1.4"/>
<line x1="822.6" y1="591.1" x2="901.6" y2="591.1" stroke="#e2e2e2" stroke-width="1.4"/>
<line x1="901.6" y1="591.1" x2="980.6" y2="591.1" stroke="#e2e2e2" stroke-width="1.4"/>
<line x1="980.6" y1="591.1" x2="1059.6" y2="591.1" stroke="#e2e2e2" stroke-width="1.4"/>
<line x1="34.4" y1="611.44" x2="113.0" y2="611.44" stroke="#e2e2e2" stroke-width="1.4"/>
<line x1="113.0" y1="611.44" x2="191.9" y2="611.44" stroke="#e2e2e2" stroke-width="1.4"/>
<line x1="191.9" y1="611.44" x2="270.8" y2="611.44" stroke="#e2e2e2" stroke-width="1.4"/>
<line x1="270.8" y1="611.44" x2="349.7" y2="611.44" stroke="#e2e2e2" stroke-width="1.4"/>
<line x1="349.7" y1="611.44" x2="428.6" y2="611.44" stroke="#e2e2e2" stroke-width="1.4"/>
<line x1="428.6" y1="611.44" x2="506.8" y2="611.44" stroke="#e2e2e2" stroke-width="1.4"/>
<line x1="506.8" y1="611.44" x2="585.7" y2="611.44" stroke="#e2e2e2" stroke-width="1.4"/>
<line x1="585.7" y1="611.44" x2="664.6" y2="611.44" stroke="#e2e2e2" stroke-width="1.4"/>
<line x1="664.6" y1="611.44" x2="743.6" y2="611.44" stroke="#e2e2e2" stroke-width="1.4"/>
<line x1="743.6" y1="611.44" x2="822.6" y2="611.44" stroke="#e2e2e2" stroke-width="1.4"/>
<line x1="822.6" y1="611.44" x2="901.6" y2="611.44" stroke="#e2e2e2" stroke-width="1.4"/>
<line x1="901.6" y1="611.44" x2="980.6" y2="611.44" stroke="#e2e2e2" stroke-width="1.4"/>
<line x1="980.6" y1="611.44" x2="1059.6" y2="611.44" stroke="#e2e2e2" stroke-width="1.4"/>
<line x1="34.4" y1="631.78" x2="113.0" y2="631.78" stroke="#e2e2e2" stroke-width="1.4"/>
<line x1="113.0" y1="631.78" x2="191.9" y2="631.78" stroke="#e2e2e2" stroke-width="1.4"/>
<line x1="191.9" y1="631.78" x2="270.8" y2="631.78" stroke="#e2e2e2" stroke-width="1.4"/>
<line x1="270.8" y1="631.78" x2="349.7" y2="631.78" stroke="#e2e2e2" stroke-width="1.4"/>
<line x1="349.7" y1="631.78" x2="428.6" y2="631.78" stroke="#e2e2e2" stroke-width="1.4"/>
<line x1="428.6" y1="631.78" x2="506.8" y2="631.78" stroke="#e2e2e2" stroke-width="1.4"/>
<line x1="506.8" y1="631.78" x2="585.7" y2="631.78" stroke="#e2e2e2" stroke-width="1.4"/>
<line x1="585.7" y1="631.78" x2="664.6" y2="631.78" stroke="#e2e2e2" stroke-width="1.4"/>
<line x1="664.6" y1="631.78" x2="743.6" y2="631.78" stroke="#e2e2e2" stroke-width="1.4"/>
<line x1="743.6" y1="631.78" x2="822.6" y2="631.78" stroke="#e2e2e2" stroke-width="1.4"/>
<line x1="822.6" y1="631.78" x2="901.6" y2="631.78" stroke="#e2e2e2" stroke-width="1.4"/>
<line x1="901.6" y1="631.78" x2="980.6" y2="631.78" stroke="#e2e2e2" stroke-width="1.4"/>
<line x1="980.6" y1="631.78" x2="1059.6" y2="631.78" stroke="#e2e2e2" stroke-width="1.4"/>
<line x1="34.4" y1="648.16" x2="113.0" y2="648.16" stroke="#e2e2e2" stroke-width="1.4"/>
<line x1="113.0" y1="648.16" x2="191.9" y2="648.16" stroke="#e2e2e2" stroke-width="1.4"/>
<line x1="191.9" y1="648.16" x2="270.8" y2="648.16" stroke="#e2e2e2" stroke-width="1.4"/>
<line x1="270.8" y1="648.16" x2="349.7" y2="648.16" stroke="#e2e2e2" stroke-width="1.4"/>
<line x1="349.7" y1="648.16" x2="428.6" y2="648.16" stroke="#e2e2e2" stroke-width="1.4"/>
<line x1="585.7" y1="648.16" x2="664.6" y2="648.16" stroke="#e2e2e2" stroke-width="1.4"/>
<line x1="664.6" y1="648.16" x2="743.6" y2="648.16" stroke="#e2e2e2" stroke-width="1.4"/>
<line x1="743.6" y1="648.16" x2="822.6" y2="648.16" stroke="#e2e2e2" stroke-width="1.4"/>
<line x1="822.6" y1="648.16" x2="901.6" y2="648.16" stroke="#e2e2e2" stroke-width="1.4"/>
<line x1="901.6" y1="648.16" x2="980.6" y2="648.16" stroke="#e2e2e2" stroke-width="1.4"/>
<line x1="980.6" y1="648.16" x2="1059.6" y2="648.16" stroke="#e2e2e2" stroke-width="1.4"/>
<line x1="34.4" y1="668.5" x2="113.0" y2="668.5" stroke="#e2e2e2" stroke-width="1.4"/>
<line x1="113.0" y1="668.5" x2="191.9" y2="668.5" stroke="#e2e2e2" stroke-width="1.4"/>
<line x1="191.9" y1="668.5" x2="270.8" y2="668.5" stroke="#e2e2e2" stroke-width="1.4"/>
<line x1="270.8" y1="668.5" x2="349.7" y2="668.5" stroke="#e2e2e2" stroke-width="1.4"/>
<line x1="349.7" y1="668.5" x2="428.6" y2="668.5" stroke="#e2e2e2" stroke-width="1.4"/>
<line x1="428.6" y1="668.5" x2="506.8" y2="668.5" stroke="#e2e2e2" stroke-width="1.4"/>
<line x1="506.8" y1="668.5" x2="585.7" y2="668.5" stroke="#e2e2e2" stroke-width="1.4"/>
<line x1="585.7" y1="668.5" x2="664.6" y2="668.5" stroke="#e2e2e2" stroke-width="1.4"/>
<line x1="664.6" y1="668.5" x2="743.6" y2="668.5" stroke="#e2e2e2" stroke-width="1.4"/>
<line x1="743.6" y1="668.5" x2="822.6" y2="668.5" stroke="#e2e2e2" stroke-width="1.4"/>
<line x1="822.6" y1="668.5" x2="901.6" y2="668.5" stroke="#e2e2e2" stroke-width="1.4"/>
<line x1="901.6" y1="668.5" x2="980.6" y2="668.5" stroke="#e2e2e2" stroke-width="1.4"/>
<line x1="980.6" y1="668.5" x2="1059.6" y2="668.5" stroke="#e2e2e2" stroke-width="1.4"/>
<line x1="191.9" y1="688.84" x2="270.8" y2="688.84" stroke="#e2e2e2" stroke-width="1.4"/>
<line x1="270.8" y1="688.84" x2="349.7" y2="688.84" stroke="#e2e2e2" stroke-width="1.4"/>
<line x1="349.7" y1="688.84" x2="428.6" y2="688.84" stroke="#e2e2e2" stroke-width="1.4"/>
<line x1="428.6" y1="688.84" x2="506.8" y2="688.84" stroke="#e2e2e2" stroke-width="1.4"/>
<line x1="506.8" y1="688.84" x2="585.7" y2="688.84" stroke="#e2e2e2" stroke-width="1.4"/>
<line x1="585.7" y1="688.84" x2="664.6" y2="688.84" stroke="#e2e2e2" stroke-width="1.4"/>
<line x1="664.6" y1="688.84" x2="743.6" y2="688.84" stroke="#e2e2e2" stroke-width="1.4"/>
<line x1="743.6" y1="688.84" x2="822.6" y2="688.84" stroke="#e2e2e2" stroke-width="1.4"/>
<line x1="980.6" y1="688.84" x2="1059.6" y2="688.84" stroke="#e2e2e2" stroke-width="1.4"/>
<line x1="34.4" y1="709.18" x2="113.0" y2="709.18" stroke="#e2e2e2" stroke-width="1.4"/>
<line x1="113.0" y1="709.18" x2="191.9" y2="709.18" stroke="#e2e2e2" stroke-width="1.4"/>
<line x1="191.9" y1="709.18" x2="270.8" y2="709.18" stroke="#e2e2e2" stroke-width="1.4"/>
<line x1="270.8" y1="709.18" x2="349.7" y2="709.18" stroke="#e2e2e2" stroke-width="1.4"/>
<line x1="349.7" y1="709.18" x2="428.6" y2="709.18" stroke="#e2e2e2" stroke-width="1.4"/>
<line x1="428.6" y1="709.18" x2="506.8" y2="709.18" stroke="#e2e2e2" stroke-width="1.4"/>
<line x1="506.8" y1="709.18" x2="585.7" y2="709.18" stroke="#e2e2e2" stroke-width="1.4"/>
<line x1="585.7" y1="709.18" x2="664.6" y2="709.18" stroke="#e2e2e2" stroke-width="1.4"/>
<line x1="664.6" y1="709.18" x2="743.6" y2="709.18" stroke="#e2e2e2" stroke-width="1.4"/>
<line x1="743.6" y1="709.18" x2="822.6" y2="709.18" stroke="#e2e2e2" stroke-width="1.4"/>
<line x1="822.6" y1="709.18" x2="901.6" y2="709.18" stroke="#e2e2e2" stroke-width="1.4"/>
<line x1="901.6" y1="709.18" x2="980.6" y2="709.18" stroke="#e2e2e2" stroke-width="1.4"/>
<line x1="980.6" y1="709.18" x2="1059.6" y2="709.18" stroke="#e2e2e2" stroke-width="1.4"/>
<line x1="34.4" y1="729.52" x2="113.0" y2="729.52" stroke="#e2e2e2" stroke-width="1.4"/>
<line x1="113.0" y1="729.52" x2="191.9" y2="729.52" stroke="#e2e2e2" stroke-width="1.4"/>
<line x1="191.9" y1="729.52" x2="270.8" y2="729.52" stroke="#e2e2e2" stroke-width="1.4"/>
<line x1="270.8" y1="729.52" x2="349.7" y2="729.52" stroke="#e2e2e2" stroke-width="1.4"/>
<line x1="349.7" y1="729.52" x2="428.6" y2="729.52" stroke="#e2e2e2" stroke-width="1.4"/>
<line x1="428.6" y1="729.52" x2="506.8" y2="729.52" stroke="#e2e2e2" stroke-width="1.4"/>
<line x1="506.8" y1="729.52" x2="585.7" y2="729.52" stroke="#e2e2e2" stroke-width="1.4"/>
<line x1="585.7" y1="729.52" x2="664.6" y2="729.52" stroke="#e2e2e2" stroke-width="1.4"/>
<line x1="664.6" y1="729.52" x2="743.6" y2="729.52" stroke="#e2e2e2" stroke-width="1.4"/>
<line x1="743.6" y1="729.52" x2="822.6" y2="729.52" stroke="#e2e2e2" stroke-width="1.4"/>
<line x1="822.6" y1="729.52" x2="901.6" y2="729.52" stroke="#e2e2e2" stroke-width="1.4"/>
<line x1="901.6" y1="729.52" x2="980.6" y2="729.52" stroke="#e2e2e2" stroke-width="1.4"/>
<line x1="980.6" y1="729.52" x2="1059.6" y2="729.52" stroke="#e2e2e2" stroke-width="1.4"/>
<line x1="34.4" y1="0" x2="34.4" y2="4.3" stroke="#dcdcdc" stroke-width="1.4"/>
<line x1="34.4" y1="4.3" x2="34.4" y2="20.68" stroke="#e2e2e2" stroke-width="1.4"/>
<line x1="34.4" y1="20.68" x2="34.4" y2="37.06" stroke="#e2e2e2" stroke-width="1.4"/>
<line x1="34.4" y1="37.06" x2="34.4" y2="53.44" stroke="#e2e2e2" stroke-width="1.4"/>
<line x1="34.4" y1="53.44" x2="34.4" y2="69.82" stroke="#e2e2e2" stroke-width="1.4"/>
<line x1="34.4" y1="69.82" x2="34.4" y2="101.32" stroke="#e2e2e2" stroke-width="1.4"/>
<line x1="34.4" y1="101.32" x2="34.4" y2="117.7" stroke="#e2e2e2" stroke-width="1.4"/>
<line x1="34.4" y1="117.7" x2="34.4" y2="134.08" stroke="#e2e2e2" stroke-width="1.4"/>
<line x1="34.4" y1="134.08" x2="34.4" y2="150.46" stroke="#e2e2e2" stroke-width="1.4"/>
<line x1="34.4" y1="150.46" x2="34.4" y2="166.84" stroke="#e2e2e2" stroke-width="1.4"/>
<line x1="34.4" y1="166.84" x2="34.4" y2="183.22" stroke="#e2e2e2" stroke-width="1.4"/>
<line x1="34.4" y1="183.22" x2="34.4" y2="199.6" stroke="#e2e2e2" stroke-width="1.4"/>
<line x1="34.4" y1="199.6" x2="34.4" y2="219.94" stroke="#e2e2e2" stroke-width="1.4"/>
<line x1="34.4" y1="219.94" x2="34.4" y2="240.28" stroke="#e2e2e2" stroke-width="1.4"/>
<line x1="34.4" y1="240.28" x2="34.4" y2="256.66" stroke="#e2e2e2" stroke-width="1.4"/>
<line x1="34.4" y1="256.66" x2="34.4" y2="273.04" stroke="#e2e2e2" stroke-width="1.4"/>
<line x1="34.4" y1="273.04" x2="34.4" y2="293.38" stroke="#e2e2e2" stroke-width="1.4"/>
<line x1="34.4" y1="293.38" x2="34.4" y2="313.72" stroke="#e2e2e2" stroke-width="1.4"/>
<line x1="34.4" y1="313.72" x2="34.4" y2="330.1" stroke="#e2e2e2" stroke-width="1.4"/>
<line x1="34.4" y1="330.1" x2="34.4" y2="350.44" stroke="#e2e2e2" stroke-width="1.4"/>
<line x1="34.4" y1="350.44" x2="34.4" y2="370.78" stroke="#e2e2e2" stroke-width="1.4"/>
<line x1="34.4" y1="370.78" x2="34.4" y2="387.16" stroke="#e2e2e2" stroke-width="1.4"/>
<line x1="34.4" y1="387.16" x2="34.4" y2="403.54" stroke="#e2e2e2" stroke-width="1.4"/>
<line x1="34.4" y1="403.54" x2="34.4" y2="423.88" stroke="#e2e2e2" stroke-width="1.4"/>
<line x1="34.4" y1="423.88" x2="34.4" y2="444.22" stroke="#e2e2e2" stroke-width="1.4"/>
<line x1="34.4" y1="444.22" x2="34.4" y2="460.6" stroke="#e2e2e2" stroke-width="1.4"/>
<line x1="34.4" y1="460.6" x2="34.4" y2="480.94" stroke="#e2e2e2" stroke-width="1.4"/>
<line x1="34.4" y1="480.94" x2="34.4" y2="501.28" stroke="#e2e2e2" stroke-width="1.4"/>
<line x1="34.4" y1="501.28" x2="34.4" y2="517.66" stroke="#e2e2e2" stroke-width="1.4"/>
<line x1="34.4" y1="517.66" x2="34.4" y2="534.04" stroke="#e2e2e2" stroke-width="1.4"/>
<line x1="34.4" y1="534.04" x2="34.4" y2="554.38" stroke="#e2e2e2" stroke-width="1.4"/>
<line x1="34.4" y1="554.38" x2="34.4" y2="574.72" stroke="#e2e2e2" stroke-width="1.4"/>
<line x1="34.4" y1="574.72" x2="34.4" y2="591.1" stroke="#e2e2e2" stroke-width="1.4"/>
<line x1="34.4" y1="591.1" x2="34.4" y2="611.44" stroke="#e2e2e2" stroke-width="1.4"/>
<line x1="34.4" y1="611.44" x2="34.4" y2="631.78" stroke="#e2e2e2" stroke-width="1.4"/>
<line x1="34.4" y1="631.78" x2="34.4" y2="648.16" stroke="#e2e2e2" stroke-width="1.4"/>
<line x1="34.4" y1="648.16" x2="34.4" y2="668.5" stroke="#e2e2e2" stroke-width="1.4"/>
<line x1="34.4" y1="668.5" x2="34.4" y2="688.84" stroke="#e2e2e2" stroke-width="1.4"/>
<line x1="34.4" y1="688.84" x2="34.4" y2="709.18" stroke="#e2e2e2" stroke-width="1.4"/>
<line x1="34.4" y1="709.18" x2="34.4" y2="729.52" stroke="#e2e2e2" stroke-width="1.4"/>
<line x1="34.4" y1="729.52" x2="34.4" y2="745.9" stroke="#e2e2e2" stroke-width="1.4"/>
<line x1="113.0" y1="0" x2="113.0" y2="4.3" stroke="#dcdcdc" stroke-width="1.4"/>
<line x1="113.0" y1="4.3" x2="113.0" y2="20.68" stroke="#e2e2e2" stroke-width="1.4"/>
<line x1="113.0" y1="20.68" x2="113.0" y2="37.06" stroke="#e2e2e2" stroke-width="1.4"/>
<line x1="113.0" y1="37.06" x2="113.0" y2="53.44" stroke="#e2e2e2" stroke-width="1.4"/>
<line x1="113.0" y1="53.44" x2="113.0" y2="69.82" stroke="#e2e2e2" stroke-width="1.4"/>
<line x1="113.0" y1="69.82" x2="113.0" y2="101.32" stroke="#e2e2e2" stroke-width="1.4"/>
<line x1="113.0" y1="101.32" x2="113.0" y2="117.7" stroke="#e2e2e2" stroke-width="1.4"/>
<line x1="113.0" y1="117.7" x2="113.0" y2="134.08" stroke="#e2e2e2" stroke-width="1.4"/>
<line x1="113.0" y1="134.08" x2="113.0" y2="150.46" stroke="#e2e2e2" stroke-width="1.4"/>
<line x1="113.0" y1="150.46" x2="113.0" y2="166.84" stroke="#e2e2e2" stroke-width="1.4"/>
<line x1="113.0" y1="166.84" x2="113.0" y2="183.22" stroke="#e2e2e2" stroke-width="1.4"/>
<line x1="113.0" y1="183.22" x2="113.0" y2="199.6" stroke="#e2e2e2" stroke-width="1.4"/>
<line x1="113.0" y1="199.6" x2="113.0" y2="219.94" stroke="#e2e2e2" stroke-width="1.4"/>
<line x1="113.0" y1="219.94" x2="113.0" y2="240.28" stroke="#e2e2e2" stroke-width="1.4"/>
<line x1="113.0" y1="240.28" x2="113.0" y2="256.66" stroke="#e2e2e2" stroke-width="1.4"/>
<line x1="113.0" y1="256.66" x2="113.0" y2="273.04" stroke="#e2e2e2" stroke-width="1.4"/>
<line x1="113.0" y1="273.04" x2="113.0" y2="293.38" stroke="#e2e2e2" stroke-width="1.4"/>
<line x1="113.0" y1="293.38" x2="113.0" y2="313.72" stroke="#e2e2e2" stroke-width="1.4"/>
<line x1="113.0" y1="313.72" x2="113.0" y2="330.1" stroke="#e2e2e2" stroke-width="1.4"/>
<line x1="113.0" y1="330.1" x2="113.0" y2="350.44" stroke="#e2e2e2" stroke-width="1.4"/>
<line x1="113.0" y1="350.44" x2="113.0" y2="370.78" stroke="#e2e2e2" stroke-width="1.4"/>
<line x1="113.0" y1="370.78" x2="113.0" y2="387.16" stroke="#e2e2e2" stroke-width="1.4"/>
<line x1="113.0" y1="387.16" x2="113.0" y2="403.54" stroke="#e2e2e2" stroke-width="1.4"/>
<line x1="113.0" y1="403.54" x2="113.0" y2="423.88" stroke="#e2e2e2" stroke-width="1.4"/>
<line x1="113.0" y1="423.88" x2="113.0" y2="444.22" stroke="#e2e2e2" stroke-width="1.4"/>
<line x1="113.0" y1="444.22" x2="113.0" y2="460.6" stroke="#e2e2e2" stroke-width="1.4"/>
<line x1="113.0" y1="460.6" x2="113.0" y2="480.94" stroke="#e2e2e2" stroke-width="1.4"/>
<line x1="113.0" y1="480.94" x2="113.0" y2="501.28" stroke="#e2e2e2" stroke-width="1.4"/>
<line x1="113.0" y1="501.28" x2="113.0" y2="517.66" stroke="#e2e2e2" stroke-width="1.4"/>
<line x1="113.0" y1="517.66" x2="113.0" y2="534.04" stroke="#e2e2e2" stroke-width="1.4"/>
<line x1="113.0" y1="534.04" x2="113.0" y2="554.38" stroke="#e2e2e2" stroke-width="1.4"/>
<line x1="113.0" y1="554.38" x2="113.0" y2="574.72" stroke="#e2e2e2" stroke-width="1.4"/>
<line x1="113.0" y1="574.72" x2="113.0" y2="591.1" stroke="#e2e2e2" stroke-width="1.4"/>
<line x1="113.0" y1="591.1" x2="113.0" y2="611.44" stroke="#e2e2e2" stroke-width="1.4"/>
<line x1="113.0" y1="611.44" x2="113.0" y2="631.78" stroke="#e2e2e2" stroke-width="1.4"/>
<line x1="113.0" y1="631.78" x2="113.0" y2="648.16" stroke="#e2e2e2" stroke-width="1.4"/>
<line x1="113.0" y1="729.52" x2="113.0" y2="745.9" stroke="#e2e2e2" stroke-width="1.4"/>
<line x1="191.9" y1="0" x2="191.9" y2="4.3" stroke="#dcdcdc" stroke-width="1.4"/>
<line x1="191.9" y1="4.3" x2="191.9" y2="20.68" stroke="#e2e2e2" stroke-width="1.4"/>
<line x1="191.9" y1="20.68" x2="191.9" y2="37.06" stroke="#e2e2e2" stroke-width="1.4"/>
<line x1="191.9" y1="37.06" x2="191.9" y2="53.44" stroke="#e2e2e2" stroke-width="1.4"/>
<line x1="191.9" y1="53.44" x2="191.9" y2="69.82" stroke="#e2e2e2" stroke-width="1.4"/>
<line x1="191.9" y1="69.82" x2="191.9" y2="101.32" stroke="#e2e2e2" stroke-width="1.4"/>
<line x1="191.9" y1="101.32" x2="191.9" y2="117.7" stroke="#e2e2e2" stroke-width="1.4"/>
<line x1="191.9" y1="117.7" x2="191.9" y2="134.08" stroke="#e2e2e2" stroke-width="1.4"/>
<line x1="191.9" y1="134.08" x2="191.9" y2="150.46" stroke="#e2e2e2" stroke-width="1.4"/>
<line x1="191.9" y1="150.46" x2="191.9" y2="166.84" stroke="#e2e2e2" stroke-width="1.4"/>
<line x1="191.9" y1="166.84" x2="191.9" y2="183.22" stroke="#e2e2e2" stroke-width="1.4"/>
<line x1="191.9" y1="183.22" x2="191.9" y2="199.6" stroke="#e2e2e2" stroke-width="1.4"/>
<line x1="191.9" y1="199.6" x2="191.9" y2="219.94" stroke="#e2e2e2" stroke-width="1.4"/>
<line x1="191.9" y1="219.94" x2="191.9" y2="240.28" stroke="#e2e2e2" stroke-width="1.4"/>
<line x1="191.9" y1="240.28" x2="191.9" y2="256.66" stroke="#e2e2e2" stroke-width="1.4"/>
<line x1="191.9" y1="256.66" x2="191.9" y2="273.04" stroke="#e2e2e2" stroke-width="1.4"/>
<line x1="191.9" y1="273.04" x2="191.9" y2="293.38" stroke="#e2e2e2" stroke-width="1.4"/>
<line x1="191.9" y1="293.38" x2="191.9" y2="313.72" stroke="#e2e2e2" stroke-width="1.4"/>
<line x1="191.9" y1="313.72" x2="191.9" y2="330.1" stroke="#e2e2e2" stroke-width="1.4"/>
<line x1="191.9" y1="330.1" x2="191.9" y2="350.44" stroke="#e2e2e2" stroke-width="1.4"/>
<line x1="191.9" y1="350.44" x2="191.9" y2="370.78" stroke="#e2e2e2" stroke-width="1.4"/>
<line x1="191.9" y1="370.78" x2="191.9" y2="387.16" stroke="#e2e2e2" stroke-width="1.4"/>
<line x1="191.9" y1="387.16" x2="191.9" y2="403.54" stroke="#e2e2e2" stroke-width="1.4"/>
<line x1="191.9" y1="501.28" x2="191.9" y2="517.66" stroke="#e2e2e2" stroke-width="1.4"/>
<line x1="191.9" y1="517.66" x2="191.9" y2="534.04" stroke="#e2e2e2" stroke-width="1.4"/>
<line x1="191.9" y1="534.04" x2="191.9" y2="554.38" stroke="#e2e2e2" stroke-width="1.4"/>
<line x1="191.9" y1="554.38" x2="191.9" y2="574.72" stroke="#e2e2e2" stroke-width="1.4"/>
<line x1="191.9" y1="574.72" x2="191.9" y2="591.1" stroke="#e2e2e2" stroke-width="1.4"/>
<line x1="191.9" y1="591.1" x2="191.9" y2="611.44" stroke="#e2e2e2" stroke-width="1.4"/>
<line x1="191.9" y1="611.44" x2="191.9" y2="631.78" stroke="#e2e2e2" stroke-width="1.4"/>
<line x1="191.9" y1="631.78" x2="191.9" y2="648.16" stroke="#e2e2e2" stroke-width="1.4"/>
<line x1="191.9" y1="648.16" x2="191.9" y2="668.5" stroke="#e2e2e2" stroke-width="1.4"/>
<line x1="191.9" y1="668.5" x2="191.9" y2="688.84" stroke="#e2e2e2" stroke-width="1.4"/>
<line x1="191.9" y1="688.84" x2="191.9" y2="709.18" stroke="#e2e2e2" stroke-width="1.4"/>
<line x1="191.9" y1="709.18" x2="191.9" y2="729.52" stroke="#e2e2e2" stroke-width="1.4"/>
<line x1="191.9" y1="729.52" x2="191.9" y2="745.9" stroke="#e2e2e2" stroke-width="1.4"/>
<line x1="270.8" y1="0" x2="270.8" y2="4.3" stroke="#dcdcdc" stroke-width="1.4"/>
<line x1="270.8" y1="4.3" x2="270.8" y2="20.68" stroke="#e2e2e2" stroke-width="1.4"/>
<line x1="270.8" y1="20.68" x2="270.8" y2="37.06" stroke="#e2e2e2" stroke-width="1.4"/>
<line x1="270.8" y1="37.06" x2="270.8" y2="53.44" stroke="#e2e2e2" stroke-width="1.4"/>
<line x1="270.8" y1="53.44" x2="270.8" y2="69.82" stroke="#e2e2e2" stroke-width="1.4"/>
<line x1="270.8" y1="69.82" x2="270.8" y2="101.32" stroke="#e2e2e2" stroke-width="1.4"/>
<line x1="270.8" y1="101.32" x2="270.8" y2="117.7" stroke="#e2e2e2" stroke-width="1.4"/>
<line x1="270.8" y1="117.7" x2="270.8" y2="134.08" stroke="#e2e2e2" stroke-width="1.4"/>
<line x1="270.8" y1="134.08" x2="270.8" y2="150.46" stroke="#e2e2e2" stroke-width="1.4"/>
<line x1="270.8" y1="150.46" x2="270.8" y2="166.84" stroke="#e2e2e2" stroke-width="1.4"/>
<line x1="270.8" y1="166.84" x2="270.8" y2="183.22" stroke="#e2e2e2" stroke-width="1.4"/>
<line x1="270.8" y1="183.22" x2="270.8" y2="199.6" stroke="#e2e2e2" stroke-width="1.4"/>
<line x1="270.8" y1="199.6" x2="270.8" y2="219.94" stroke="#e2e2e2" stroke-width="1.4"/>
<line x1="270.8" y1="219.94" x2="270.8" y2="240.28" stroke="#e2e2e2" stroke-width="1.4"/>
<line x1="270.8" y1="240.28" x2="270.8" y2="256.66" stroke="#e2e2e2" stroke-width="1.4"/>
<line x1="270.8" y1="256.66" x2="270.8" y2="273.04" stroke="#e2e2e2" stroke-width="1.4"/>
<line x1="270.8" y1="273.04" x2="270.8" y2="293.38" stroke="#e2e2e2" stroke-width="1.4"/>
<line x1="270.8" y1="293.38" x2="270.8" y2="313.72" stroke="#e2e2e2" stroke-width="1.4"/>
<line x1="270.8" y1="313.72" x2="270.8" y2="330.1" stroke="#e2e2e2" stroke-width="1.4"/>
<line x1="270.8" y1="330.1" x2="270.8" y2="350.44" stroke="#e2e2e2" stroke-width="1.4"/>
<line x1="270.8" y1="350.44" x2="270.8" y2="370.78" stroke="#e2e2e2" stroke-width="1.4"/>
<line x1="270.8" y1="370.78" x2="270.8" y2="387.16" stroke="#e2e2e2" stroke-width="1.4"/>
<line x1="270.8" y1="387.16" x2="270.8" y2="403.54" stroke="#e2e2e2" stroke-width="1.4"/>
<line x1="270.8" y1="403.54" x2="270.8" y2="423.88" stroke="#e2e2e2" stroke-width="1.4"/>
<line x1="270.8" y1="423.88" x2="270.8" y2="444.22" stroke="#e2e2e2" stroke-width="1.4"/>
<line x1="270.8" y1="444.22" x2="270.8" y2="460.6" stroke="#e2e2e2" stroke-width="1.4"/>
<line x1="270.8" y1="460.6" x2="270.8" y2="480.94" stroke="#e2e2e2" stroke-width="1.4"/>
<line x1="270.8" y1="480.94" x2="270.8" y2="501.28" stroke="#e2e2e2" stroke-width="1.4"/>
<line x1="270.8" y1="501.28" x2="270.8" y2="517.66" stroke="#e2e2e2" stroke-width="1.4"/>
<line x1="270.8" y1="517.66" x2="270.8" y2="534.04" stroke="#e2e2e2" stroke-width="1.4"/>
<line x1="270.8" y1="534.04" x2="270.8" y2="554.38" stroke="#e2e2e2" stroke-width="1.4"/>
<line x1="270.8" y1="554.38" x2="270.8" y2="574.72" stroke="#e2e2e2" stroke-width="1.4"/>
<line x1="270.8" y1="574.72" x2="270.8" y2="591.1" stroke="#e2e2e2" stroke-width="1.4"/>
<line x1="270.8" y1="591.1" x2="270.8" y2="611.44" stroke="#e2e2e2" stroke-width="1.4"/>
<line x1="270.8" y1="611.44" x2="270.8" y2="631.78" stroke="#e2e2e2" stroke-width="1.4"/>
<line x1="270.8" y1="631.78" x2="270.8" y2="648.16" stroke="#e2e2e2" stroke-width="1.4"/>
<line x1="270.8" y1="648.16" x2="270.8" y2="668.5" stroke="#e2e2e2" stroke-width="1.4"/>
<line x1="270.8" y1="668.5" x2="270.8" y2="688.84" stroke="#e2e2e2" stroke-width="1.4"/>
<line x1="270.8" y1="688.84" x2="270.8" y2="709.18" stroke="#e2e2e2" stroke-width="1.4"/>
<line x1="270.8" y1="709.18" x2="270.8" y2="729.52" stroke="#e2e2e2" stroke-width="1.4"/>
<line x1="270.8" y1="729.52" x2="270.8" y2="745.9" stroke="#e2e2e2" stroke-width="1.4"/>
<line x1="349.7" y1="0" x2="349.7" y2="4.3" stroke="#dcdcdc" stroke-width="1.4"/>
<line x1="349.7" y1="4.3" x2="349.7" y2="20.68" stroke="#e2e2e2" stroke-width="1.4"/>
<line x1="349.7" y1="20.68" x2="349.7" y2="37.06" stroke="#e2e2e2" stroke-width="1.4"/>
<line x1="349.7" y1="37.06" x2="349.7" y2="53.44" stroke="#e2e2e2" stroke-width="1.4"/>
<line x1="349.7" y1="53.44" x2="349.7" y2="69.82" stroke="#e2e2e2" stroke-width="1.4"/>
<line x1="349.7" y1="101.32" x2="349.7" y2="117.7" stroke="#e2e2e2" stroke-width="1.4"/>
<line x1="349.7" y1="117.7" x2="349.7" y2="134.08" stroke="#e2e2e2" stroke-width="1.4"/>
<line x1="349.7" y1="134.08" x2="349.7" y2="150.46" stroke="#e2e2e2" stroke-width="1.4"/>
<line x1="349.7" y1="150.46" x2="349.7" y2="166.84" stroke="#e2e2e2" stroke-width="1.4"/>
<line x1="349.7" y1="166.84" x2="349.7" y2="183.22" stroke="#e2e2e2" stroke-width="1.4"/>
<line x1="349.7" y1="183.22" x2="349.7" y2="199.6" stroke="#e2e2e2" stroke-width="1.4"/>
<line x1="349.7" y1="199.6" x2="349.7" y2="219.94" stroke="#e2e2e2" stroke-width="1.4"/>
<line x1="349.7" y1="219.94" x2="349.7" y2="240.28" stroke="#e2e2e2" stroke-width="1.4"/>
<line x1="349.7" y1="240.28" x2="349.7" y2="256.66" stroke="#e2e2e2" stroke-width="1.4"/>
<line x1="349.7" y1="256.66" x2="349.7" y2="273.04" stroke="#e2e2e2" stroke-width="1.4"/>
<line x1="349.7" y1="370.78" x2="349.7" y2="387.16" stroke="#e2e2e2" stroke-width="1.4"/>
<line x1="349.7" y1="387.16" x2="349.7" y2="403.54" stroke="#e2e2e2" stroke-width="1.4"/>
<line x1="349.7" y1="403.54" x2="349.7" y2="423.88" stroke="#e2e2e2" stroke-width="1.4"/>
<line x1="349.7" y1="423.88" x2="349.7" y2="444.22" stroke="#e2e2e2" stroke-width="1.4"/>
<line x1="349.7" y1="444.22" x2="349.7" y2="460.6" stroke="#e2e2e2" stroke-width="1.4"/>
<line x1="349.7" y1="460.6" x2="349.7" y2="480.94" stroke="#e2e2e2" stroke-width="1.4"/>
<line x1="349.7" y1="480.94" x2="349.7" y2="501.28" stroke="#e2e2e2" stroke-width="1.4"/>
<line x1="349.7" y1="501.28" x2="349.7" y2="517.66" stroke="#e2e2e2" stroke-width="1.4"/>
<line x1="349.7" y1="517.66" x2="349.7" y2="534.04" stroke="#e2e2e2" stroke-width="1.4"/>
<line x1="349.7" y1="631.78" x2="349.7" y2="648.16" stroke="#e2e2e2" stroke-width="1.4"/>
<line x1="349.7" y1="648.16" x2="349.7" y2="668.5" stroke="#e2e2e2" stroke-width="1.4"/>
<line x1="349.7" y1="668.5" x2="349.7" y2="688.84" stroke="#e2e2e2" stroke-width="1.4"/>
<line x1="349.7" y1="688.84" x2="349.7" y2="709.18" stroke="#e2e2e2" stroke-width="1.4"/>
<line x1="349.7" y1="709.18" x2="349.7" y2="729.52" stroke="#e2e2e2" stroke-width="1.4"/>
<line x1="349.7" y1="729.52" x2="349.7" y2="745.9" stroke="#e2e2e2" stroke-width="1.4"/>
<line x1="428.6" y1="0" x2="428.6" y2="4.3" stroke="#dcdcdc" stroke-width="1.4"/>
<line x1="428.6" y1="4.3" x2="428.6" y2="20.68" stroke="#e2e2e2" stroke-width="1.4"/>
<line x1="428.6" y1="20.68" x2="428.6" y2="37.06" stroke="#e2e2e2" stroke-width="1.4"/>
<line x1="428.6" y1="37.06" x2="428.6" y2="53.44" stroke="#e2e2e2" stroke-width="1.4"/>
<line x1="428.6" y1="53.44" x2="428.6" y2="69.82" stroke="#e2e2e2" stroke-width="1.4"/>
<line x1="428.6" y1="101.32" x2="428.6" y2="117.7" stroke="#e2e2e2" stroke-width="1.4"/>
<line x1="428.6" y1="117.7" x2="428.6" y2="134.08" stroke="#e2e2e2" stroke-width="1.4"/>
<line x1="428.6" y1="134.08" x2="428.6" y2="150.46" stroke="#e2e2e2" stroke-width="1.4"/>
<line x1="428.6" y1="150.46" x2="428.6" y2="166.84" stroke="#e2e2e2" stroke-width="1.4"/>
<line x1="428.6" y1="166.84" x2="428.6" y2="183.22" stroke="#e2e2e2" stroke-width="1.4"/>
<line x1="428.6" y1="183.22" x2="428.6" y2="199.6" stroke="#e2e2e2" stroke-width="1.4"/>
<line x1="428.6" y1="199.6" x2="428.6" y2="219.94" stroke="#e2e2e2" stroke-width="1.4"/>
<line x1="428.6" y1="219.94" x2="428.6" y2="240.28" stroke="#e2e2e2" stroke-width="1.4"/>
<line x1="428.6" y1="240.28" x2="428.6" y2="256.66" stroke="#e2e2e2" stroke-width="1.4"/>
<line x1="428.6" y1="256.66" x2="428.6" y2="273.04" stroke="#e2e2e2" stroke-width="1.4"/>
<line x1="428.6" y1="273.04" x2="428.6" y2="293.38" stroke="#e2e2e2" stroke-width="1.4"/>
<line x1="428.6" y1="293.38" x2="428.6" y2="313.72" stroke="#e2e2e2" stroke-width="1.4"/>
<line x1="428.6" y1="313.72" x2="428.6" y2="330.1" stroke="#e2e2e2" stroke-width="1.4"/>
<line x1="428.6" y1="330.1" x2="428.6" y2="350.44" stroke="#e2e2e2" stroke-width="1.4"/>
<line x1="428.6" y1="350.44" x2="428.6" y2="370.78" stroke="#e2e2e2" stroke-width="1.4"/>
<line x1="428.6" y1="370.78" x2="428.6" y2="387.16" stroke="#e2e2e2" stroke-width="1.4"/>
<line x1="428.6" y1="387.16" x2="428.6" y2="403.54" stroke="#e2e2e2" stroke-width="1.4"/>
<line x1="428.6" y1="403.54" x2="428.6" y2="423.88" stroke="#e2e2e2" stroke-width="1.4"/>
<line x1="428.6" y1="423.88" x2="428.6" y2="444.22" stroke="#e2e2e2" stroke-width="1.4"/>
<line x1="428.6" y1="444.22" x2="428.6" y2="460.6" stroke="#e2e2e2" stroke-width="1.4"/>
<line x1="428.6" y1="460.6" x2="428.6" y2="480.94" stroke="#e2e2e2" stroke-width="1.4"/>
<line x1="428.6" y1="480.94" x2="428.6" y2="501.28" stroke="#e2e2e2" stroke-width="1.4"/>
<line x1="428.6" y1="501.28" x2="428.6" y2="517.66" stroke="#e2e2e2" stroke-width="1.4"/>
<line x1="428.6" y1="517.66" x2="428.6" y2="534.04" stroke="#e2e2e2" stroke-width="1.4"/>
<line x1="428.6" y1="534.04" x2="428.6" y2="554.38" stroke="#e2e2e2" stroke-width="1.4"/>
<line x1="428.6" y1="554.38" x2="428.6" y2="574.72" stroke="#e2e2e2" stroke-width="1.4"/>
<line x1="428.6" y1="574.72" x2="428.6" y2="591.1" stroke="#e2e2e2" stroke-width="1.4"/>
<line x1="428.6" y1="591.1" x2="428.6" y2="611.44" stroke="#e2e2e2" stroke-width="1.4"/>
<line x1="428.6" y1="611.44" x2="428.6" y2="631.78" stroke="#e2e2e2" stroke-width="1.4"/>
<line x1="428.6" y1="631.78" x2="428.6" y2="648.16" stroke="#e2e2e2" stroke-width="1.4"/>
<line x1="428.6" y1="648.16" x2="428.6" y2="668.5" stroke="#e2e2e2" stroke-width="1.4"/>
<line x1="428.6" y1="668.5" x2="428.6" y2="688.84" stroke="#e2e2e2" stroke-width="1.4"/>
<line x1="428.6" y1="688.84" x2="428.6" y2="709.18" stroke="#e2e2e2" stroke-width="1.4"/>
<line x1="428.6" y1="709.18" x2="428.6" y2="729.52" stroke="#e2e2e2" stroke-width="1.4"/>
<line x1="428.6" y1="729.52" x2="428.6" y2="745.9" stroke="#e2e2e2" stroke-width="1.4"/>
<line x1="506.8" y1="0" x2="506.8" y2="4.3" stroke="#dcdcdc" stroke-width="1.4"/>
<line x1="506.8" y1="4.3" x2="506.8" y2="20.68" stroke="#e2e2e2" stroke-width="1.4"/>
<line x1="506.8" y1="20.68" x2="506.8" y2="37.06" stroke="#e2e2e2" stroke-width="1.4"/>
<line x1="506.8" y1="37.06" x2="506.8" y2="53.44" stroke="#e2e2e2" stroke-width="1.4"/>
<line x1="506.8" y1="53.44" x2="506.8" y2="69.82" stroke="#e2e2e2" stroke-width="1.4"/>
<line x1="506.8" y1="101.32" x2="506.8" y2="117.7" stroke="#e2e2e2" stroke-width="1.4"/>
<line x1="506.8" y1="117.7" x2="506.8" y2="134.08" stroke="#e2e2e2" stroke-width="1.4"/>
<line x1="506.8" y1="134.08" x2="506.8" y2="150.46" stroke="#e2e2e2" stroke-width="1.4"/>
<line x1="506.8" y1="150.46" x2="506.8" y2="166.84" stroke="#e2e2e2" stroke-width="1.4"/>
<line x1="506.8" y1="166.84" x2="506.8" y2="183.22" stroke="#e2e2e2" stroke-width="1.4"/>
<line x1="506.8" y1="183.22" x2="506.8" y2="199.6" stroke="#e2e2e2" stroke-width="1.4"/>
<line x1="506.8" y1="313.72" x2="506.8" y2="330.1" stroke="#e2e2e2" stroke-width="1.4"/>
<line x1="506.8" y1="444.22" x2="506.8" y2="460.6" stroke="#e2e2e2" stroke-width="1.4"/>
<line x1="506.8" y1="574.72" x2="506.8" y2="591.1" stroke="#e2e2e2" stroke-width="1.4"/>
<line x1="506.8" y1="709.18" x2="506.8" y2="729.52" stroke="#e2e2e2" stroke-width="1.4"/>
<line x1="506.8" y1="729.52" x2="506.8" y2="745.9" stroke="#e2e2e2" stroke-width="1.4"/>
<line x1="585.7" y1="0" x2="585.7" y2="4.3" stroke="#dcdcdc" stroke-width="1.4"/>
<line x1="585.7" y1="4.3" x2="585.7" y2="20.68" stroke="#e2e2e2" stroke-width="1.4"/>
<line x1="585.7" y1="20.68" x2="585.7" y2="37.06" stroke="#e2e2e2" stroke-width="1.4"/>
<line x1="585.7" y1="37.06" x2="585.7" y2="53.44" stroke="#e2e2e2" stroke-width="1.4"/>
<line x1="585.7" y1="53.44" x2="585.7" y2="69.82" stroke="#e2e2e2" stroke-width="1.4"/>
<line x1="585.7" y1="101.32" x2="585.7" y2="117.7" stroke="#e2e2e2" stroke-width="1.4"/>
<line x1="585.7" y1="117.7" x2="585.7" y2="134.08" stroke="#e2e2e2" stroke-width="1.4"/>
<line x1="585.7" y1="134.08" x2="585.7" y2="150.46" stroke="#e2e2e2" stroke-width="1.4"/>
<line x1="585.7" y1="150.46" x2="585.7" y2="166.84" stroke="#e2e2e2" stroke-width="1.4"/>
<line x1="585.7" y1="166.84" x2="585.7" y2="183.22" stroke="#e2e2e2" stroke-width="1.4"/>
<line x1="585.7" y1="183.22" x2="585.7" y2="199.6" stroke="#e2e2e2" stroke-width="1.4"/>
<line x1="585.7" y1="199.6" x2="585.7" y2="219.94" stroke="#e2e2e2" stroke-width="1.4"/>
<line x1="585.7" y1="219.94" x2="585.7" y2="240.28" stroke="#e2e2e2" stroke-width="1.4"/>
<line x1="585.7" y1="240.28" x2="585.7" y2="256.66" stroke="#e2e2e2" stroke-width="1.4"/>
<line x1="585.7" y1="256.66" x2="585.7" y2="273.04" stroke="#e2e2e2" stroke-width="1.4"/>
<line x1="585.7" y1="273.04" x2="585.7" y2="293.38" stroke="#e2e2e2" stroke-width="1.4"/>
<line x1="585.7" y1="293.38" x2="585.7" y2="313.72" stroke="#e2e2e2" stroke-width="1.4"/>
<line x1="585.7" y1="313.72" x2="585.7" y2="330.1" stroke="#e2e2e2" stroke-width="1.4"/>
<line x1="585.7" y1="330.1" x2="585.7" y2="350.44" stroke="#e2e2e2" stroke-width="1.4"/>
<line x1="585.7" y1="350.44" x2="585.7" y2="370.78" stroke="#e2e2e2" stroke-width="1.4"/>
<line x1="585.7" y1="370.78" x2="585.7" y2="387.16" stroke="#e2e2e2" stroke-width="1.4"/>
<line x1="585.7" y1="387.16" x2="585.7" y2="403.54" stroke="#e2e2e2" stroke-width="1.4"/>
<line x1="585.7" y1="403.54" x2="585.7" y2="423.88" stroke="#e2e2e2" stroke-width="1.4"/>
<line x1="585.7" y1="423.88" x2="585.7" y2="444.22" stroke="#e2e2e2" stroke-width="1.4"/>
<line x1="585.7" y1="444.22" x2="585.7" y2="460.6" stroke="#e2e2e2" stroke-width="1.4"/>
<line x1="585.7" y1="460.6" x2="585.7" y2="480.94" stroke="#e2e2e2" stroke-width="1.4"/>
<line x1="585.7" y1="480.94" x2="585.7" y2="501.28" stroke="#e2e2e2" stroke-width="1.4"/>
<line x1="585.7" y1="501.28" x2="585.7" y2="517.66" stroke="#e2e2e2" stroke-width="1.4"/>
<line x1="585.7" y1="517.66" x2="585.7" y2="534.04" stroke="#e2e2e2" stroke-width="1.4"/>
<line x1="585.7" y1="534.04" x2="585.7" y2="554.38" stroke="#e2e2e2" stroke-width="1.4"/>
<line x1="585.7" y1="554.38" x2="585.7" y2="574.72" stroke="#e2e2e2" stroke-width="1.4"/>
<line x1="585.7" y1="574.72" x2="585.7" y2="591.1" stroke="#e2e2e2" stroke-width="1.4"/>
<line x1="585.7" y1="591.1" x2="585.7" y2="611.44" stroke="#e2e2e2" stroke-width="1.4"/>
<line x1="585.7" y1="611.44" x2="585.7" y2="631.78" stroke="#e2e2e2" stroke-width="1.4"/>
<line x1="585.7" y1="631.78" x2="585.7" y2="648.16" stroke="#e2e2e2" stroke-width="1.4"/>
<line x1="585.7" y1="648.16" x2="585.7" y2="668.5" stroke="#e2e2e2" stroke-width="1.4"/>
<line x1="585.7" y1="668.5" x2="585.7" y2="688.84" stroke="#e2e2e2" stroke-width="1.4"/>
<line x1="585.7" y1="688.84" x2="585.7" y2="709.18" stroke="#e2e2e2" stroke-width="1.4"/>
<line x1="585.7" y1="709.18" x2="585.7" y2="729.52" stroke="#e2e2e2" stroke-width="1.4"/>
<line x1="585.7" y1="729.52" x2="585.7" y2="745.9" stroke="#e2e2e2" stroke-width="1.4"/>
<line x1="664.6" y1="0" x2="664.6" y2="4.3" stroke="#dcdcdc" stroke-width="1.4"/>
<line x1="664.6" y1="4.3" x2="664.6" y2="20.68" stroke="#e2e2e2" stroke-width="1.4"/>
<line x1="664.6" y1="20.68" x2="664.6" y2="37.06" stroke="#e2e2e2" stroke-width="1.4"/>
<line x1="664.6" y1="37.06" x2="664.6" y2="53.44" stroke="#e2e2e2" stroke-width="1.4"/>
<line x1="664.6" y1="53.44" x2="664.6" y2="69.82" stroke="#e2e2e2" stroke-width="1.4"/>
<line x1="664.6" y1="101.32" x2="664.6" y2="117.7" stroke="#e2e2e2" stroke-width="1.4"/>
<line x1="664.6" y1="117.7" x2="664.6" y2="134.08" stroke="#e2e2e2" stroke-width="1.4"/>
<line x1="664.6" y1="134.08" x2="664.6" y2="150.46" stroke="#e2e2e2" stroke-width="1.4"/>
<line x1="664.6" y1="150.46" x2="664.6" y2="166.84" stroke="#e2e2e2" stroke-width="1.4"/>
<line x1="664.6" y1="166.84" x2="664.6" y2="183.22" stroke="#e2e2e2" stroke-width="1.4"/>
<line x1="664.6" y1="183.22" x2="664.6" y2="199.6" stroke="#e2e2e2" stroke-width="1.4"/>
<line x1="664.6" y1="199.6" x2="664.6" y2="219.94" stroke="#e2e2e2" stroke-width="1.4"/>
<line x1="664.6" y1="219.94" x2="664.6" y2="240.28" stroke="#e2e2e2" stroke-width="1.4"/>
<line x1="664.6" y1="240.28" x2="664.6" y2="256.66" stroke="#e2e2e2" stroke-width="1.4"/>
<line x1="664.6" y1="256.66" x2="664.6" y2="273.04" stroke="#e2e2e2" stroke-width="1.4"/>
<line x1="664.6" y1="370.78" x2="664.6" y2="387.16" stroke="#e2e2e2" stroke-width="1.4"/>
<line x1="664.6" y1="387.16" x2="664.6" y2="403.54" stroke="#e2e2e2" stroke-width="1.4"/>
<line x1="664.6" y1="403.54" x2="664.6" y2="423.88" stroke="#e2e2e2" stroke-width="1.4"/>
<line x1="664.6" y1="423.88" x2="664.6" y2="444.22" stroke="#e2e2e2" stroke-width="1.4"/>
<line x1="664.6" y1="444.22" x2="664.6" y2="460.6" stroke="#e2e2e2" stroke-width="1.4"/>
<line x1="664.6" y1="460.6" x2="664.6" y2="480.94" stroke="#e2e2e2" stroke-width="1.4"/>
<line x1="664.6" y1="480.94" x2="664.6" y2="501.28" stroke="#e2e2e2" stroke-width="1.4"/>
<line x1="664.6" y1="501.28" x2="664.6" y2="517.66" stroke="#e2e2e2" stroke-width="1.4"/>
<line x1="664.6" y1="517.66" x2="664.6" y2="534.04" stroke="#e2e2e2" stroke-width="1.4"/>
<line x1="664.6" y1="631.78" x2="664.6" y2="648.16" stroke="#e2e2e2" stroke-width="1.4"/>
<line x1="664.6" y1="648.16" x2="664.6" y2="668.5" stroke="#e2e2e2" stroke-width="1.4"/>
<line x1="664.6" y1="668.5" x2="664.6" y2="688.84" stroke="#e2e2e2" stroke-width="1.4"/>
<line x1="664.6" y1="688.84" x2="664.6" y2="709.18" stroke="#e2e2e2" stroke-width="1.4"/>
<line x1="664.6" y1="709.18" x2="664.6" y2="729.52" stroke="#e2e2e2" stroke-width="1.4"/>
<line x1="664.6" y1="729.52" x2="664.6" y2="745.9" stroke="#e2e2e2" stroke-width="1.4"/>
<line x1="743.6" y1="0" x2="743.6" y2="4.3" stroke="#dcdcdc" stroke-width="1.4"/>
<line x1="743.6" y1="4.3" x2="743.6" y2="20.68" stroke="#e2e2e2" stroke-width="1.4"/>
<line x1="743.6" y1="20.68" x2="743.6" y2="37.06" stroke="#e2e2e2" stroke-width="1.4"/>
<line x1="743.6" y1="37.06" x2="743.6" y2="53.44" stroke="#e2e2e2" stroke-width="1.4"/>
<line x1="743.6" y1="53.44" x2="743.6" y2="69.82" stroke="#e2e2e2" stroke-width="1.4"/>
<line x1="743.6" y1="69.82" x2="743.6" y2="101.32" stroke="#e2e2e2" stroke-width="1.4"/>
<line x1="743.6" y1="101.32" x2="743.6" y2="117.7" stroke="#e2e2e2" stroke-width="1.4"/>
<line x1="743.6" y1="117.7" x2="743.6" y2="134.08" stroke="#e2e2e2" stroke-width="1.4"/>
<line x1="743.6" y1="134.08" x2="743.6" y2="150.46" stroke="#e2e2e2" stroke-width="1.4"/>
<line x1="743.6" y1="150.46" x2="743.6" y2="166.84" stroke="#e2e2e2" stroke-width="1.4"/>
<line x1="743.6" y1="166.84" x2="743.6" y2="183.22" stroke="#e2e2e2" stroke-width="1.4"/>
<line x1="743.6" y1="183.22" x2="743.6" y2="199.6" stroke="#e2e2e2" stroke-width="1.4"/>
<line x1="743.6" y1="199.6" x2="743.6" y2="219.94" stroke="#e2e2e2" stroke-width="1.4"/>
<line x1="743.6" y1="219.94" x2="743.6" y2="240.28" stroke="#e2e2e2" stroke-width="1.4"/>
<line x1="743.6" y1="240.28" x2="743.6" y2="256.66" stroke="#e2e2e2" stroke-width="1.4"/>
<line x1="743.6" y1="256.66" x2="743.6" y2="273.04" stroke="#e2e2e2" stroke-width="1.4"/>
<line x1="743.6" y1="273.04" x2="743.6" y2="293.38" stroke="#e2e2e2" stroke-width="1.4"/>
<line x1="743.6" y1="293.38" x2="743.6" y2="313.72" stroke="#e2e2e2" stroke-width="1.4"/>
<line x1="743.6" y1="313.72" x2="743.6" y2="330.1" stroke="#e2e2e2" stroke-width="1.4"/>
<line x1="743.6" y1="330.1" x2="743.6" y2="350.44" stroke="#e2e2e2" stroke-width="1.4"/>
<line x1="743.6" y1="350.44" x2="743.6" y2="370.78" stroke="#e2e2e2" stroke-width="1.4"/>
<line x1="743.6" y1="370.78" x2="743.6" y2="387.16" stroke="#e2e2e2" stroke-width="1.4"/>
<line x1="743.6" y1="387.16" x2="743.6" y2="403.54" stroke="#e2e2e2" stroke-width="1.4"/>
<line x1="743.6" y1="403.54" x2="743.6" y2="423.88" stroke="#e2e2e2" stroke-width="1.4"/>
<line x1="743.6" y1="423.88" x2="743.6" y2="444.22" stroke="#e2e2e2" stroke-width="1.4"/>
<line x1="743.6" y1="444.22" x2="743.6" y2="460.6" stroke="#e2e2e2" stroke-width="1.4"/>
<line x1="743.6" y1="460.6" x2="743.6" y2="480.94" stroke="#e2e2e2" stroke-width="1.4"/>
<line x1="743.6" y1="480.94" x2="743.6" y2="501.28" stroke="#e2e2e2" stroke-width="1.4"/>
<line x1="743.6" y1="501.28" x2="743.6" y2="517.66" stroke="#e2e2e2" stroke-width="1.4"/>
<line x1="743.6" y1="517.66" x2="743.6" y2="534.04" stroke="#e2e2e2" stroke-width="1.4"/>
<line x1="743.6" y1="534.04" x2="743.6" y2="554.38" stroke="#e2e2e2" stroke-width="1.4"/>
<line x1="743.6" y1="554.38" x2="743.6" y2="574.72" stroke="#e2e2e2" stroke-width="1.4"/>
<line x1="743.6" y1="574.72" x2="743.6" y2="591.1" stroke="#e2e2e2" stroke-width="1.4"/>
<line x1="743.6" y1="591.1" x2="743.6" y2="611.44" stroke="#e2e2e2" stroke-width="1.4"/>
<line x1="743.6" y1="611.44" x2="743.6" y2="631.78" stroke="#e2e2e2" stroke-width="1.4"/>
<line x1="743.6" y1="631.78" x2="743.6" y2="648.16" stroke="#e2e2e2" stroke-width="1.4"/>
<line x1="743.6" y1="648.16" x2="743.6" y2="668.5" stroke="#e2e2e2" stroke-width="1.4"/>
<line x1="743.6" y1="668.5" x2="743.6" y2="688.84" stroke="#e2e2e2" stroke-width="1.4"/>
<line x1="743.6" y1="688.84" x2="743.6" y2="709.18" stroke="#e2e2e2" stroke-width="1.4"/>
<line x1="743.6" y1="709.18" x2="743.6" y2="729.52" stroke="#e2e2e2" stroke-width="1.4"/>
<line x1="743.6" y1="729.52" x2="743.6" y2="745.9" stroke="#e2e2e2" stroke-width="1.4"/>
<line x1="822.6" y1="0" x2="822.6" y2="4.3" stroke="#dcdcdc" stroke-width="1.4"/>
<line x1="822.6" y1="4.3" x2="822.6" y2="20.68" stroke="#e2e2e2" stroke-width="1.4"/>
<line x1="822.6" y1="20.68" x2="822.6" y2="37.06" stroke="#e2e2e2" stroke-width="1.4"/>
<line x1="822.6" y1="37.06" x2="822.6" y2="53.44" stroke="#e2e2e2" stroke-width="1.4"/>
<line x1="822.6" y1="53.44" x2="822.6" y2="69.82" stroke="#e2e2e2" stroke-width="1.4"/>
<line x1="822.6" y1="69.82" x2="822.6" y2="101.32" stroke="#e2e2e2" stroke-width="1.4"/>
<line x1="822.6" y1="101.32" x2="822.6" y2="117.7" stroke="#e2e2e2" stroke-width="1.4"/>
<line x1="822.6" y1="117.7" x2="822.6" y2="134.08" stroke="#e2e2e2" stroke-width="1.4"/>
<line x1="822.6" y1="134.08" x2="822.6" y2="150.46" stroke="#e2e2e2" stroke-width="1.4"/>
<line x1="822.6" y1="150.46" x2="822.6" y2="166.84" stroke="#e2e2e2" stroke-width="1.4"/>
<line x1="822.6" y1="166.84" x2="822.6" y2="183.22" stroke="#e2e2e2" stroke-width="1.4"/>
<line x1="822.6" y1="183.22" x2="822.6" y2="199.6" stroke="#e2e2e2" stroke-width="1.4"/>
<line x1="822.6" y1="199.6" x2="822.6" y2="219.94" stroke="#e2e2e2" stroke-width="1.4"/>
<line x1="822.6" y1="219.94" x2="822.6" y2="240.28" stroke="#e2e2e2" stroke-width="1.4"/>
<line x1="822.6" y1="240.28" x2="822.6" y2="256.66" stroke="#e2e2e2" stroke-width="1.4"/>
<line x1="822.6" y1="256.66" x2="822.6" y2="273.04" stroke="#e2e2e2" stroke-width="1.4"/>
<line x1="822.6" y1="273.04" x2="822.6" y2="293.38" stroke="#e2e2e2" stroke-width="1.4"/>
<line x1="822.6" y1="293.38" x2="822.6" y2="313.72" stroke="#e2e2e2" stroke-width="1.4"/>
<line x1="822.6" y1="313.72" x2="822.6" y2="330.1" stroke="#e2e2e2" stroke-width="1.4"/>
<line x1="822.6" y1="330.1" x2="822.6" y2="350.44" stroke="#e2e2e2" stroke-width="1.4"/>
<line x1="822.6" y1="350.44" x2="822.6" y2="370.78" stroke="#e2e2e2" stroke-width="1.4"/>
<line x1="822.6" y1="370.78" x2="822.6" y2="387.16" stroke="#e2e2e2" stroke-width="1.4"/>
<line x1="822.6" y1="387.16" x2="822.6" y2="403.54" stroke="#e2e2e2" stroke-width="1.4"/>
<line x1="822.6" y1="501.28" x2="822.6" y2="517.66" stroke="#e2e2e2" stroke-width="1.4"/>
<line x1="822.6" y1="517.66" x2="822.6" y2="534.04" stroke="#e2e2e2" stroke-width="1.4"/>
<line x1="822.6" y1="534.04" x2="822.6" y2="554.38" stroke="#e2e2e2" stroke-width="1.4"/>
<line x1="822.6" y1="554.38" x2="822.6" y2="574.72" stroke="#e2e2e2" stroke-width="1.4"/>
<line x1="822.6" y1="574.72" x2="822.6" y2="591.1" stroke="#e2e2e2" stroke-width="1.4"/>
<line x1="822.6" y1="591.1" x2="822.6" y2="611.44" stroke="#e2e2e2" stroke-width="1.4"/>
<line x1="822.6" y1="611.44" x2="822.6" y2="631.78" stroke="#e2e2e2" stroke-width="1.4"/>
<line x1="822.6" y1="631.78" x2="822.6" y2="648.16" stroke="#e2e2e2" stroke-width="1.4"/>
<line x1="822.6" y1="648.16" x2="822.6" y2="668.5" stroke="#e2e2e2" stroke-width="1.4"/>
<line x1="822.6" y1="668.5" x2="822.6" y2="688.84" stroke="#e2e2e2" stroke-width="1.4"/>
<line x1="822.6" y1="688.84" x2="822.6" y2="709.18" stroke="#e2e2e2" stroke-width="1.4"/>
<line x1="822.6" y1="709.18" x2="822.6" y2="729.52" stroke="#e2e2e2" stroke-width="1.4"/>
<line x1="822.6" y1="729.52" x2="822.6" y2="745.9" stroke="#e2e2e2" stroke-width="1.4"/>
<line x1="901.6" y1="0" x2="901.6" y2="4.3" stroke="#dcdcdc" stroke-width="1.4"/>
<line x1="901.6" y1="4.3" x2="901.6" y2="20.68" stroke="#e2e2e2" stroke-width="1.4"/>
<line x1="901.6" y1="20.68" x2="901.6" y2="37.06" stroke="#e2e2e2" stroke-width="1.4"/>
<line x1="901.6" y1="37.06" x2="901.6" y2="53.44" stroke="#e2e2e2" stroke-width="1.4"/>
<line x1="901.6" y1="53.44" x2="901.6" y2="69.82" stroke="#e2e2e2" stroke-width="1.4"/>
<line x1="901.6" y1="69.82" x2="901.6" y2="101.32" stroke="#e2e2e2" stroke-width="1.4"/>
<line x1="901.6" y1="101.32" x2="901.6" y2="117.7" stroke="#e2e2e2" stroke-width="1.4"/>
<line x1="901.6" y1="117.7" x2="901.6" y2="134.08" stroke="#e2e2e2" stroke-width="1.4"/>
<line x1="901.6" y1="134.08" x2="901.6" y2="150.46" stroke="#e2e2e2" stroke-width="1.4"/>
<line x1="901.6" y1="150.46" x2="901.6" y2="166.84" stroke="#e2e2e2" stroke-width="1.4"/>
<line x1="901.6" y1="166.84" x2="901.6" y2="183.22" stroke="#e2e2e2" stroke-width="1.4"/>
<line x1="901.6" y1="183.22" x2="901.6" y2="199.6" stroke="#e2e2e2" stroke-width="1.4"/>
<line x1="901.6" y1="199.6" x2="901.6" y2="219.94" stroke="#e2e2e2" stroke-width="1.4"/>
<line x1="901.6" y1="219.94" x2="901.6" y2="240.28" stroke="#e2e2e2" stroke-width="1.4"/>
<line x1="901.6" y1="240.28" x2="901.6" y2="256.66" stroke="#e2e2e2" stroke-width="1.4"/>
<line x1="901.6" y1="256.66" x2="901.6" y2="273.04" stroke="#e2e2e2" stroke-width="1.4"/>
<line x1="901.6" y1="273.04" x2="901.6" y2="293.38" stroke="#e2e2e2" stroke-width="1.4"/>
<line x1="901.6" y1="293.38" x2="901.6" y2="313.72" stroke="#e2e2e2" stroke-width="1.4"/>
<line x1="901.6" y1="313.72" x2="901.6" y2="330.1" stroke="#e2e2e2" stroke-width="1.4"/>
<line x1="901.6" y1="330.1" x2="901.6" y2="350.44" stroke="#e2e2e2" stroke-width="1.4"/>
<line x1="901.6" y1="350.44" x2="901.6" y2="370.78" stroke="#e2e2e2" stroke-width="1.4"/>
<line x1="901.6" y1="370.78" x2="901.6" y2="387.16" stroke="#e2e2e2" stroke-width="1.4"/>
<line x1="901.6" y1="387.16" x2="901.6" y2="403.54" stroke="#e2e2e2" stroke-width="1.4"/>
<line x1="901.6" y1="403.54" x2="901.6" y2="423.88" stroke="#e2e2e2" stroke-width="1.4"/>
<line x1="901.6" y1="423.88" x2="901.6" y2="444.22" stroke="#e2e2e2" stroke-width="1.4"/>
<line x1="901.6" y1="444.22" x2="901.6" y2="460.6" stroke="#e2e2e2" stroke-width="1.4"/>
<line x1="901.6" y1="460.6" x2="901.6" y2="480.94" stroke="#e2e2e2" stroke-width="1.4"/>
<line x1="901.6" y1="480.94" x2="901.6" y2="501.28" stroke="#e2e2e2" stroke-width="1.4"/>
<line x1="901.6" y1="501.28" x2="901.6" y2="517.66" stroke="#e2e2e2" stroke-width="1.4"/>
<line x1="901.6" y1="517.66" x2="901.6" y2="534.04" stroke="#e2e2e2" stroke-width="1.4"/>
<line x1="901.6" y1="534.04" x2="901.6" y2="554.38" stroke="#e2e2e2" stroke-width="1.4"/>
<line x1="901.6" y1="554.38" x2="901.6" y2="574.72" stroke="#e2e2e2" stroke-width="1.4"/>
<line x1="901.6" y1="574.72" x2="901.6" y2="591.1" stroke="#e2e2e2" stroke-width="1.4"/>
<line x1="901.6" y1="591.1" x2="901.6" y2="611.44" stroke="#e2e2e2" stroke-width="1.4"/>
<line x1="901.6" y1="611.44" x2="901.6" y2="631.78" stroke="#e2e2e2" stroke-width="1.4"/>
<line x1="901.6" y1="631.78" x2="901.6" y2="648.16" stroke="#e2e2e2" stroke-width="1.4"/>
<line x1="901.6" y1="729.52" x2="901.6" y2="745.9" stroke="#e2e2e2" stroke-width="1.4"/>
<line x1="980.6" y1="0" x2="980.6" y2="4.3" stroke="#dcdcdc" stroke-width="1.4"/>
<line x1="980.6" y1="4.3" x2="980.6" y2="20.68" stroke="#e2e2e2" stroke-width="1.4"/>
<line x1="980.6" y1="20.68" x2="980.6" y2="37.06" stroke="#e2e2e2" stroke-width="1.4"/>
<line x1="980.6" y1="37.06" x2="980.6" y2="53.44" stroke="#e2e2e2" stroke-width="1.4"/>
<line x1="980.6" y1="53.44" x2="980.6" y2="69.82" stroke="#e2e2e2" stroke-width="1.4"/>
<line x1="980.6" y1="69.82" x2="980.6" y2="101.32" stroke="#e2e2e2" stroke-width="1.4"/>
<line x1="980.6" y1="101.32" x2="980.6" y2="117.7" stroke="#e2e2e2" stroke-width="1.4"/>
<line x1="980.6" y1="117.7" x2="980.6" y2="134.08" stroke="#e2e2e2" stroke-width="1.4"/>
<line x1="980.6" y1="134.08" x2="980.6" y2="150.46" stroke="#e2e2e2" stroke-width="1.4"/>
<line x1="980.6" y1="150.46" x2="980.6" y2="166.84" stroke="#e2e2e2" stroke-width="1.4"/>
<line x1="980.6" y1="166.84" x2="980.6" y2="183.22" stroke="#e2e2e2" stroke-width="1.4"/>
<line x1="980.6" y1="183.22" x2="980.6" y2="199.6" stroke="#e2e2e2" stroke-width="1.4"/>
<line x1="980.6" y1="199.6" x2="980.6" y2="219.94" stroke="#e2e2e2" stroke-width="1.4"/>
<line x1="980.6" y1="219.94" x2="980.6" y2="240.28" stroke="#e2e2e2" stroke-width="1.4"/>
<line x1="980.6" y1="240.28" x2="980.6" y2="256.66" stroke="#e2e2e2" stroke-width="1.4"/>
<line x1="980.6" y1="256.66" x2="980.6" y2="273.04" stroke="#e2e2e2" stroke-width="1.4"/>
<line x1="980.6" y1="273.04" x2="980.6" y2="293.38" stroke="#e2e2e2" stroke-width="1.4"/>
<line x1="980.6" y1="293.38" x2="980.6" y2="313.72" stroke="#e2e2e2" stroke-width="1.4"/>
<line x1="980.6" y1="313.72" x2="980.6" y2="330.1" stroke="#e2e2e2" stroke-width="1.4"/>
<line x1="980.6" y1="330.1" x2="980.6" y2="350.44" stroke="#e2e2e2" stroke-width="1.4"/>
<line x1="980.6" y1="350.44" x2="980.6" y2="370.78" stroke="#e2e2e2" stroke-width="1.4"/>
<line x1="980.6" y1="370.78" x2="980.6" y2="387.16" stroke="#e2e2e2" stroke-width="1.4"/>
<line x1="980.6" y1="387.16" x2="980.6" y2="403.54" stroke="#e2e2e2" stroke-width="1.4"/>
<line x1="980.6" y1="403.54" x2="980.6" y2="423.88" stroke="#e2e2e2" stroke-width="1.4"/>
<line x1="980.6" y1="423.88" x2="980.6" y2="444.22" stroke="#e2e2e2" stroke-width="1.4"/>
<line x1="980.6" y1="444.22" x2="980.6" y2="460.6" stroke="#e2e2e2" stroke-width="1.4"/>
<line x1="980.6" y1="460.6" x2="980.6" y2="480.94" stroke="#e2e2e2" stroke-width="1.4"/>
<line x1="980.6" y1="480.94" x2="980.6" y2="501.28" stroke="#e2e2e2" stroke-width="1.4"/>
<line x1="980.6" y1="501.28" x2="980.6" y2="517.66" stroke="#e2e2e2" stroke-width="1.4"/>
<line x1="980.6" y1="517.66" x2="980.6" y2="534.04" stroke="#e2e2e2" stroke-width="1.4"/>
<line x1="980.6" y1="534.04" x2="980.6" y2="554.38" stroke="#e2e2e2" stroke-width="1.4"/>
<line x1="980.6" y1="554.38" x2="980.6" y2="574.72" stroke="#e2e2e2" stroke-width="1.4"/>
<line x1="980.6" y1="574.72" x2="980.6" y2="591.1" stroke="#e2e2e2" stroke-width="1.4"/>
<line x1="980.6" y1="591.1" x2="980.6" y2="611.44" stroke="#e2e2e2" stroke-width="1.4"/>
<line x1="980.6" y1="611.44" x2="980.6" y2="631.78" stroke="#e2e2e2" stroke-width="1.4"/>
<line x1="980.6" y1="631.78" x2="980.6" y2="648.16" stroke="#e2e2e2" stroke-width="1.4"/>
<line x1="980.6" y1="648.16" x2="980.6" y2="668.5" stroke="#e2e2e2" stroke-width="1.4"/>
<line x1="980.6" y1="668.5" x2="980.6" y2="688.84" stroke="#e2e2e2" stroke-width="1.4"/>
<line x1="980.6" y1="688.84" x2="980.6" y2="709.18" stroke="#e2e2e2" stroke-width="1.4"/>
<line x1="980.6" y1="709.18" x2="980.6" y2="729.52" stroke="#e2e2e2" stroke-width="1.4"/>
<line x1="980.6" y1="729.52" x2="980.6" y2="745.9" stroke="#e2e2e2" stroke-width="1.4"/>
<line x1="0" y1="4.3" x2="34.4" y2="4.3" stroke="#d6d6d6" stroke-width="1.4"/>
<line x1="0" y1="20.68" x2="34.4" y2="20.68" stroke="#d6d6d6" stroke-width="1.4"/>
<line x1="0" y1="37.06" x2="34.4" y2="37.06" stroke="#d6d6d6" stroke-width="1.4"/>
<line x1="0" y1="53.44" x2="34.4" y2="53.44" stroke="#d6d6d6" stroke-width="1.4"/>
<line x1="0" y1="69.82" x2="34.4" y2="69.82" stroke="#d6d6d6" stroke-width="1.4"/>
<line x1="0" y1="101.32" x2="34.4" y2="101.32" stroke="#d6d6d6" stroke-width="1.4"/>
<line x1="0" y1="117.7" x2="34.4" y2="117.7" stroke="#d6d6d6" stroke-width="1.4"/>
<line x1="0" y1="134.08" x2="34.4" y2="134.08" stroke="#d6d6d6" stroke-width="1.4"/>
<line x1="0" y1="150.46" x2="34.4" y2="150.46" stroke="#d6d6d6" stroke-width="1.4"/>
<line x1="0" y1="166.84" x2="34.4" y2="166.84" stroke="#d6d6d6" stroke-width="1.4"/>
<line x1="0" y1="183.22" x2="34.4" y2="183.22" stroke="#d6d6d6" stroke-width="1.4"/>
<line x1="0" y1="199.6" x2="34.4" y2="199.6" stroke="#d6d6d6" stroke-width="1.4"/>
<line x1="0" y1="219.94" x2="34.4" y2="219.94" stroke="#d6d6d6" stroke-width="1.4"/>
<line x1="0" y1="240.28" x2="34.4" y2="240.28" stroke="#d6d6d6" stroke-width="1.4"/>
<line x1="0" y1="256.66" x2="34.4" y2="256.66" stroke="#d6d6d6" stroke-width="1.4"/>
<line x1="0" y1="273.04" x2="34.4" y2="273.04" stroke="#d6d6d6" stroke-width="1.4"/>
<line x1="0" y1="293.38" x2="34.4" y2="293.38" stroke="#d6d6d6" stroke-width="1.4"/>
<line x1="0" y1="313.72" x2="34.4" y2="313.72" stroke="#d6d6d6" stroke-width="1.4"/>
<line x1="0" y1="330.1" x2="34.4" y2="330.1" stroke="#d6d6d6" stroke-width="1.4"/>
<line x1="0" y1="350.44" x2="34.4" y2="350.44" stroke="#d6d6d6" stroke-width="1.4"/>
<line x1="0" y1="370.78" x2="34.4" y2="370.78" stroke="#d6d6d6" stroke-width="1.4"/>
<line x1="0" y1="387.16" x2="34.4" y2="387.16" stroke="#d6d6d6" stroke-width="1.4"/>
<line x1="0" y1="403.54" x2="34.4" y2="403.54" stroke="#d6d6d6" stroke-width="1.4"/>
<line x1="0" y1="423.88" x2="34.4" y2="423.88" stroke="#d6d6d6" stroke-width="1.4"/>
<line x1="0" y1="444.22" x2="34.4" y2="444.22" stroke="#d6d6d6" stroke-width="1.4"/>
<line x1="0" y1="460.6" x2="34.4" y2="460.6" stroke="#d6d6d6" stroke-width="1.4"/>
<line x1="0" y1="480.94" x2="34.4" y2="480.94" stroke="#d6d6d6" stroke-width="1.4"/>
<line x1="0" y1="501.28" x2="34.4" y2="501.28" stroke="#d6d6d6" stroke-width="1.4"/>
<line x1="0" y1="517.66" x2="34.4" y2="517.66" stroke="#d6d6d6" stroke-width="1.4"/>
<line x1="0" y1="534.04" x2="34.4" y2="534.04" stroke="#d6d6d6" stroke-width="1.4"/>
<line x1="0" y1="554.38" x2="34.4" y2="554.38" stroke="#d6d6d6" stroke-width="1.4"/>
<line x1="0" y1="574.72" x2="34.4" y2="574.72" stroke="#d6d6d6" stroke-width="1.4"/>
<line x1="0" y1="591.1" x2="34.4" y2="591.1" stroke="#d6d6d6" stroke-width="1.4"/>
<line x1="0" y1="611.44" x2="34.4" y2="611.44" stroke="#d6d6d6" stroke-width="1.4"/>
<line x1="0" y1="631.78" x2="34.4" y2="631.78" stroke="#d6d6d6" stroke-width="1.4"/>
<line x1="0" y1="648.16" x2="34.4" y2="648.16" stroke="#d6d6d6" stroke-width="1.4"/>
<line x1="0" y1="668.5" x2="34.4" y2="668.5" stroke="#d6d6d6" stroke-width="1.4"/>
<line x1="0" y1="688.84" x2="34.4" y2="688.84" stroke="#d6d6d6" stroke-width="1.4"/>
<line x1="0" y1="709.18" x2="34.4" y2="709.18" stroke="#d6d6d6" stroke-width="1.4"/>
<line x1="0" y1="729.52" x2="34.4" y2="729.52" stroke="#d6d6d6" stroke-width="1.4"/>
<line x1="0" y1="745.9" x2="34.4" y2="745.9" stroke="#d6d6d6" stroke-width="1.4"/>
<line x1="34.1" y1="0" x2="34.1" y2="733" stroke="#d6d6d6" stroke-width="1"/>
<text x="17.4" y="15.1" font-size="9" fill="#5a5a5a" text-anchor="middle" font-family="Liberation Sans, sans-serif">1</text>
<text x="17.4" y="31.5" font-size="9" fill="#5a5a5a" text-anchor="middle" font-family="Liberation Sans, sans-serif">2</text>
<text x="17.4" y="47.9" font-size="9" fill="#5a5a5a" text-anchor="middle" font-family="Liberation Sans, sans-serif">3</text>
<text x="17.4" y="64.2" font-size="9" fill="#5a5a5a" text-anchor="middle" font-family="Liberation Sans, sans-serif">4</text>
<text x="17.4" y="88.2" font-size="9" fill="#5a5a5a" text-anchor="middle" font-family="Liberation Sans, sans-serif">5</text>
<text x="17.4" y="112.1" font-size="9" fill="#5a5a5a" text-anchor="middle" font-family="Liberation Sans, sans-serif">6</text>
<text x="17.4" y="128.5" font-size="9" fill="#5a5a5a" text-anchor="middle" font-family="Liberation Sans, sans-serif">7</text>
<text x="17.4" y="144.9" font-size="9" fill="#5a5a5a" text-anchor="middle" font-family="Liberation Sans, sans-serif">8</text>
<text x="17.4" y="161.2" font-size="9" fill="#5a5a5a" text-anchor="middle" font-family="Liberation Sans, sans-serif">9</text>
<text x="17.4" y="177.6" font-size="9" fill="#5a5a5a" text-anchor="middle" font-family="Liberation Sans, sans-serif">10</text>
<text x="17.4" y="194.0" font-size="9" fill="#5a5a5a" text-anchor="middle" font-family="Liberation Sans, sans-serif">11</text>
<text x="17.4" y="212.4" font-size="9" fill="#5a5a5a" text-anchor="middle" font-family="Liberation Sans, sans-serif">12</text>
<text x="17.4" y="232.7" font-size="9" fill="#5a5a5a" text-anchor="middle" font-family="Liberation Sans, sans-serif">13</text>
<text x="17.4" y="251.1" font-size="9" fill="#5a5a5a" text-anchor="middle" font-family="Liberation Sans, sans-serif">14</text>
<text x="17.4" y="267.5" font-size="9" fill="#5a5a5a" text-anchor="middle" font-family="Liberation Sans, sans-serif">15</text>
<text x="17.4" y="285.8" font-size="9" fill="#5a5a5a" text-anchor="middle" font-family="Liberation Sans, sans-serif">16</text>
<text x="17.4" y="306.2" font-size="9" fill="#5a5a5a" text-anchor="middle" font-family="Liberation Sans, sans-serif">17</text>
<text x="17.4" y="324.5" font-size="9" fill="#5a5a5a" text-anchor="middle" font-family="Liberation Sans, sans-serif">18</text>
<text x="17.4" y="342.9" font-size="9" fill="#5a5a5a" text-anchor="middle" font-family="Liberation Sans, sans-serif">19</text>
<text x="17.4" y="363.2" font-size="9" fill="#5a5a5a" text-anchor="middle" font-family="Liberation Sans, sans-serif">20</text>
<text x="17.4" y="381.6" font-size="9" fill="#5a5a5a" text-anchor="middle" font-family="Liberation Sans, sans-serif">21</text>
<text x="17.4" y="398.0" font-size="9" fill="#5a5a5a" text-anchor="middle" font-family="Liberation Sans, sans-serif">22</text>
<text x="17.4" y="416.3" font-size="9" fill="#5a5a5a" text-anchor="middle" font-family="Liberation Sans, sans-serif">23</text>
<text x="17.4" y="436.7" font-size="9" fill="#5a5a5a" text-anchor="middle" font-family="Liberation Sans, sans-serif">24</text>
<text x="17.4" y="455.0" font-size="9" fill="#5a5a5a" text-anchor="middle" font-family="Liberation Sans, sans-serif">25</text>
<text x="17.4" y="473.4" font-size="9" fill="#5a5a5a" text-anchor="middle" font-family="Liberation Sans, sans-serif">26</text>
<text x="17.4" y="493.7" font-size="9" fill="#5a5a5a" text-anchor="middle" font-family="Liberation Sans, sans-serif">27</text>
<text x="17.4" y="512.1" font-size="9" fill="#5a5a5a" text-anchor="middle" font-family="Liberation Sans, sans-serif">28</text>
<text x="17.4" y="528.4" font-size="9" fill="#5a5a5a" text-anchor="middle" font-family="Liberation Sans, sans-serif">29</text>
<text x="17.4" y="546.8" font-size="9" fill="#5a5a5a" text-anchor="middle" font-family="Liberation Sans, sans-serif">30</text>
<text x="17.4" y="567.1" font-size="9" fill="#5a5a5a" text-anchor="middle" font-family="Liberation Sans, sans-serif">31</text>
<text x="17.4" y="585.5" font-size="9" fill="#5a5a5a" text-anchor="middle" font-family="Liberation Sans, sans-serif">32</text>
<text x="17.4" y="603.9" font-size="9" fill="#5a5a5a" text-anchor="middle" font-family="Liberation Sans, sans-serif">33</text>
<text x="17.4" y="624.2" font-size="9" fill="#5a5a5a" text-anchor="middle" font-family="Liberation Sans, sans-serif">34</text>
<text x="17.4" y="642.6" font-size="9" fill="#5a5a5a" text-anchor="middle" font-family="Liberation Sans, sans-serif">35</text>
<text x="17.4" y="660.9" font-size="9" fill="#5a5a5a" text-anchor="middle" font-family="Liberation Sans, sans-serif">36</text>
<text x="17.4" y="681.3" font-size="9" fill="#5a5a5a" text-anchor="middle" font-family="Liberation Sans, sans-serif">37</text>
<text x="17.4" y="701.6" font-size="9" fill="#5a5a5a" text-anchor="middle" font-family="Liberation Sans, sans-serif">38</text>
<text x="17.4" y="721.9" font-size="9" fill="#5a5a5a" text-anchor="middle" font-family="Liberation Sans, sans-serif">39</text>
<text x="17.4" y="740.3" font-size="9" fill="#5a5a5a" text-anchor="middle" font-family="Liberation Sans, sans-serif">40</text>
<rect x="426.0" y="217.3" width="159.9" height="2.8" fill="#000"/>
<rect x="426.0" y="290.7" width="159.9" height="2.8" fill="#000"/>
<rect x="426.0" y="217.3" width="2.8" height="76.2" fill="#000"/>
<rect x="583.1" y="217.3" width="2.8" height="76.2" fill="#000"/>
<rect x="426.0" y="347.8" width="159.9" height="2.8" fill="#000"/>
<rect x="426.0" y="421.2" width="159.9" height="2.8" fill="#000"/>
<rect x="426.0" y="347.8" width="2.8" height="76.2" fill="#000"/>
<rect x="583.1" y="347.8" width="2.8" height="76.2" fill="#000"/>
<rect x="426.0" y="478.3" width="159.9" height="2.8" fill="#000"/>
<rect x="426.0" y="551.7" width="159.9" height="2.8" fill="#000"/>
<rect x="426.0" y="478.3" width="2.8" height="76.2" fill="#000"/>
<rect x="583.1" y="478.3" width="2.8" height="76.2" fill="#000"/>
<rect x="426.0" y="608.8" width="159.9" height="2.8" fill="#000"/>
<rect x="426.0" y="686.2" width="159.9" height="2.8" fill="#000"/>
<rect x="426.0" y="608.8" width="2.8" height="80.2" fill="#000"/>
<rect x="583.1" y="608.8" width="2.8" height="80.2" fill="#000"/>
<rect x="268.2" y="254.0" width="160.6" height="2.8" fill="#000"/>
<rect x="268.2" y="384.5" width="160.6" height="2.8" fill="#000"/>
<rect x="268.2" y="254.0" width="2.8" height="133.3" fill="#000"/>
<rect x="268.2" y="515.0" width="160.6" height="2.8" fill="#000"/>
<rect x="268.2" y="645.5" width="160.6" height="2.8" fill="#000"/>
<rect x="268.2" y="515.0" width="2.8" height="133.3" fill="#000"/>
<rect x="583.1" y="254.0" width="160.7" height="2.8" fill="#000"/>
<rect x="583.1" y="384.5" width="160.7" height="2.8" fill="#000"/>
<rect x="741.0" y="254.0" width="2.8" height="133.3" fill="#000"/>
<rect x="583.1" y="515.0" width="160.7" height="2.8" fill="#000"/>
<rect x="583.1" y="645.5" width="160.7" height="2.8" fill="#000"/>
<rect x="741.0" y="515.0" width="2.8" height="133.3" fill="#000"/>
<rect x="110.3" y="327.5" width="160.6" height="2.8" fill="#000"/>
<rect x="110.3" y="572.1" width="160.6" height="2.8" fill="#000"/>
<rect x="110.3" y="327.5" width="2.8" height="247.4" fill="#000"/>
<rect x="741.0" y="327.5" width="160.8" height="2.8" fill="#000"/>
<rect x="741.0" y="572.1" width="160.8" height="2.8" fill="#000"/>
<rect x="899.0" y="327.5" width="2.8" height="247.4" fill="#000"/>
<rect x="33.6" y="645.5" width="158.3" height="2.8" fill="#000"/>
<rect x="33.6" y="726.9" width="158.3" height="2.8" fill="#000"/>
<rect x="822.1" y="645.5" width="158.7" height="2.8" fill="#000"/>
<rect x="822.1" y="726.9" width="158.7" height="2.8" fill="#000"/>
<g font-family="Liberation Sans, sans-serif">
<text x="506.8" y="213.8" text-anchor="middle" font-size="14" fill="#000" style="font-weight:bold;font-style:italic">Haskell</text>
<text x="506.8" y="235.7" text-anchor="middle" font-size="14" fill="#1a1a1a" style="font-weight:normal">Thursday</text>
<text x="506.8" y="268.4" text-anchor="middle" font-size="14" fill="#000" style="font-weight:bold">Game 1</text>
<text x="506.8" y="287.3" text-anchor="middle" font-size="14" fill="#1a1a1a" style="font-weight:normal">10:00</text>
<text x="506.8" y="309.1" text-anchor="middle" font-size="14" fill="#000" style="font-weight:bold;font-style:italic">Vian</text>
<text x="506.8" y="344.3" text-anchor="middle" font-size="14" fill="#000" style="font-weight:bold;font-style:italic">Muskogee JV</text>
<text x="506.8" y="366.2" text-anchor="middle" font-size="14" fill="#1a1a1a" style="font-weight:normal">Thursday</text>
<text x="506.8" y="398.9" text-anchor="middle" font-size="14" fill="#000" style="font-weight:bold">Game 2</text>
<text x="506.8" y="417.8" text-anchor="middle" font-size="14" fill="#1a1a1a" style="font-weight:normal">12:30</text>
<text x="506.8" y="439.6" text-anchor="middle" font-size="14" fill="#000" style="font-weight:bold;font-style:italic">Oktaha</text>
<text x="506.8" y="474.8" text-anchor="middle" font-size="14" fill="#000" style="font-weight:bold;font-style:italic">Warner</text>
<text x="506.8" y="496.7" text-anchor="middle" font-size="14" fill="#1a1a1a" style="font-weight:normal">Thursday</text>
<text x="506.8" y="529.4" text-anchor="middle" font-size="14" fill="#000" style="font-weight:bold">Game 3</text>
<text x="506.8" y="548.3" text-anchor="middle" font-size="14" fill="#1a1a1a" style="font-weight:normal">3:00</text>
<text x="506.8" y="570.1" text-anchor="middle" font-size="14" fill="#000" style="font-weight:bold;font-style:italic">Tahlequah Sequoyah</text>
<text x="506.8" y="605.3" text-anchor="middle" font-size="14" fill="#000" style="font-weight:bold;font-style:italic">Pocola</text>
<text x="506.8" y="627.2" text-anchor="middle" font-size="14" fill="#1a1a1a" style="font-weight:normal">Thursday</text>
<text x="506.8" y="663.9" text-anchor="middle" font-size="14" fill="#000" style="font-weight:bold">Game 4</text>
<text x="506.8" y="682.7" text-anchor="middle" font-size="14" fill="#1a1a1a" style="font-weight:normal">5:30</text>
<text x="506.8" y="704.6" text-anchor="middle" font-size="14" fill="#000" style="font-weight:bold;font-style:italic">Checotah</text>
<text x="349.4" y="288.8" text-anchor="middle" font-size="14" fill="#1a1a1a" style="font-weight:normal">Friday</text>
<text x="349.4" y="345.8" text-anchor="middle" font-size="14" fill="#000" style="font-weight:bold">Game 5</text>
<text x="349.4" y="366.2" text-anchor="middle" font-size="14" fill="#1a1a1a" style="font-weight:normal">10:00</text>
<text x="349.4" y="549.8" text-anchor="middle" font-size="14" fill="#1a1a1a" style="font-weight:normal">Friday</text>
<text x="349.4" y="606.8" text-anchor="middle" font-size="14" fill="#000" style="font-weight:bold">Game 6</text>
<text x="349.4" y="627.2" text-anchor="middle" font-size="14" fill="#1a1a1a" style="font-weight:normal">12:30</text>
<text x="664.4" y="288.8" text-anchor="middle" font-size="14" fill="#1a1a1a" style="font-weight:normal">Friday</text>
<text x="664.4" y="345.8" text-anchor="middle" font-size="14" fill="#000" style="font-weight:bold">Game 7</text>
<text x="664.4" y="366.2" text-anchor="middle" font-size="14" fill="#1a1a1a" style="font-weight:normal">3:00</text>
<text x="664.4" y="549.8" text-anchor="middle" font-size="14" fill="#1a1a1a" style="font-weight:normal">Friday</text>
<text x="664.4" y="606.8" text-anchor="middle" font-size="14" fill="#000" style="font-weight:bold">Game 8</text>
<text x="664.4" y="627.2" text-anchor="middle" font-size="14" fill="#1a1a1a" style="font-weight:normal">5:30</text>
<text x="191.6" y="419.3" text-anchor="middle" font-size="14" fill="#1a1a1a" style="font-weight:normal">Saturday</text>
<text x="191.6" y="476.3" text-anchor="middle" font-size="14" fill="#000" style="font-weight:bold">Game 11</text>
<text x="191.6" y="496.7" text-anchor="middle" font-size="14" fill="#1a1a1a" style="font-weight:normal">12:30</text>
<text x="822.3" y="419.3" text-anchor="middle" font-size="14" fill="#1a1a1a" style="font-weight:normal">Saturday</text>
<text x="822.3" y="476.3" text-anchor="middle" font-size="14" fill="#000" style="font-weight:bold">Game 12</text>
<text x="822.3" y="496.7" text-anchor="middle" font-size="14" fill="#1a1a1a" style="font-weight:normal">5:30</text>
<text x="112.4" y="663.9" text-anchor="middle" font-size="14" fill="#1a1a1a" style="font-weight:normal">Saturday</text>
<text x="112.4" y="704.6" text-anchor="middle" font-size="14" fill="#000" style="font-weight:bold">Game 9 - L5 vs L6</text>
<text x="112.4" y="723.4" text-anchor="middle" font-size="14" fill="#1a1a1a" style="font-weight:normal">10:00</text>
<text x="901.3" y="663.9" text-anchor="middle" font-size="14" fill="#1a1a1a" style="font-weight:normal">Saturday</text>
<text x="901.3" y="704.6" text-anchor="middle" font-size="14" fill="#000" style="font-weight:bold">Game 10 - L7 vs L8</text>
<text x="901.3" y="723.4" text-anchor="middle" font-size="14" fill="#1a1a1a" style="font-weight:normal">3:00</text>
<text x="505.9" y="94.0" text-anchor="middle" font-size="24" font-weight="bold" fill="#000">4/16/26 - 4/18/26</text>
</g>
<g id="logo">
<rect x="31" y="1.5" width="252" height="220" fill="#fff"/>
<!-- dome -->
<path d="M68.6,83.2 A96.2,96.2 0 0 1 245.6,83.2 Z" fill="#1c4fac"/>
<!-- top band -->
<rect x="42.4" y="82.9" width="228.9" height="3.1" fill="#1c4fac"/>
<!-- checotah text -->
<defs><path id="arcp" d="M75.5,130.5 A82,82 0 0 1 239.5,130.5"/></defs>
<text font-family="Liberation Serif, serif" font-weight="bold" font-size="20" fill="#fff" stroke="#fff" stroke-width="1.0" letter-spacing="1.7"><textPath href="#arcp" startOffset="50%" text-anchor="middle">Checotah</textPath></text>
<!-- diamond -->
<polygon points="155.6,53.7 160.5,58.9 155.6,64.1 150.7,58.9" fill="#fff" stroke="#fff" stroke-width="0.3" stroke-linejoin="round"/>
<!-- mound -->
<path d="M139.8,83.2 L148.3,73.4 Q155.5,79.0 162.8,73.6 L171.0,83.2 Z" fill="#fff"/>
<!-- home plate outline -->
<path d="M53.5,100 L108.9,100 L108.9,129.8 L81.2,159.5 L53.5,129.8 Z" fill="none" stroke="#111" stroke-width="5" stroke-linejoin="miter"/>
<!-- bat -->
<line x1="97" y1="108.3" x2="127.2" y2="121.2" stroke="#fff" stroke-width="4.6" stroke-linecap="round"/>
<!-- batter -->
<path d="M83.5,89.0 C86.5,89 88.8,91 89.2,93.6 L90.0,96.6 L88.4,97.7 L87.3,99.6 L86.2,100.7 L89.5,101.8 L92.8,103.5 L96.0,105.7 L98.2,106.7 L100.4,107.8 L102.8,109.6 L102.6,112.2 L100.4,113.3 L97.1,113.3 L93.8,114.9 L90.6,116.6 L88.4,117.7 L86.7,117.1 L84.0,118.8 L82.9,121.5 L82.9,124 L83.3,126.1 L83.9,131.1 L86.3,136 L87.6,140.9 L89.4,145.8 L91.2,150.7 L94.3,155 L98,157.5 L99.8,159.3 L99.2,160.5 L89.4,160.5 L88.2,158.7 L87.6,155.6 L85.7,151.9 L83.9,148.3 L82,145.8 L80.2,147.6 L76.5,147.6 L72.8,144 L73.4,142.7 L74.7,140.3 L74.7,135.4 L73.4,131.7 L71,129.2 L69.1,126.1 L68.8,123.1 L69.1,120 L70.1,118.8 L70.6,110.6 L71.5,102.4 L73.1,98.0 L75.8,96.1 L78.6,95.6 L79.1,93.1 C79.5,90.5 81,89 83.5,89 Z" fill="#1c4fac" stroke="#fff" stroke-width="2.4" paint-order="stroke" stroke-linejoin="round"/>
<path d="M58.7,148.9 L64.8,148.9 L67,151.3 L63.6,155 L63,159.3 L63.6,162.4 L60.5,162.4 L58.1,158.1 L57.5,155.6 L58.1,151.3 Z" fill="#1c4fac" stroke="#fff" stroke-width="2" paint-order="stroke" stroke-linejoin="round"/>
<polygon points="89.2,107.2 94.5,108.6 96.6,110.6 93.5,112.8 90.3,111.8 89,109.5" fill="#fff"/>
<!-- CROSSROADS -->
<path d="M119.60,96.50H126.20A2.6,2.6 0 0 1 128.80,99.10V130.30A2.6,2.6 0 0 1 126.20,132.90H119.60A2.6,2.6 0 0 1 117.00,130.30V99.10A2.6,2.6 0 0 1 119.60,96.50zM131.70,96.50H140.20A2.6,2.6 0 0 1 142.80,99.10V111.80L143.50,115.20V132.90H131.10V97.10zM148.50,96.50H155.90A2.6,2.6 0 0 1 158.50,99.10V130.30A2.6,2.6 0 0 1 155.90,132.90H148.50A2.6,2.6 0 0 1 145.90,130.30V99.10A2.6,2.6 0 0 1 148.50,96.50zM163.40,96.50H170.20A2.6,2.6 0 0 1 172.80,99.10V130.30A2.6,2.6 0 0 1 170.20,132.90H163.40A2.6,2.6 0 0 1 160.80,130.30V99.10A2.6,2.6 0 0 1 163.40,96.50zM178.30,96.50H185.30A2.6,2.6 0 0 1 187.90,99.10V130.30A2.6,2.6 0 0 1 185.30,132.90H178.30A2.6,2.6 0 0 1 175.70,130.30V99.10A2.6,2.6 0 0 1 178.30,96.50zM191.30,96.50H199.60A2.6,2.6 0 0 1 202.20,99.10V111.80L202.90,115.20V132.90H190.70V97.10zM208.10,96.50H215.10A2.6,2.6 0 0 1 217.70,99.10V130.30A2.6,2.6 0 0 1 215.10,132.90H208.10A2.6,2.6 0 0 1 205.50,130.30V99.10A2.6,2.6 0 0 1 208.10,96.50zM224.00,96.50L230.90,96.50L234.50,132.90L220.40,132.90zM236.60,96.50H245.30A3.2,3.2 0 0 1 248.50,99.70V129.70A3.2,3.2 0 0 1 245.30,132.90H236.60A0.6,0.6 0 0 1 236.00,132.30V97.10A0.6,0.6 0 0 1 236.60,96.50zM253.80,96.50H261.20A2.6,2.6 0 0 1 263.80,99.10V130.30A2.6,2.6 0 0 1 261.20,132.90H253.80A2.6,2.6 0 0 1 251.20,130.30V99.10A2.6,2.6 0 0 1 253.80,96.50z" fill="#111"/>
<path d="M121.50,101.30L125.10,101.30L125.10,107.20L129.00,107.20L129.00,122.60L125.10,122.60L125.10,128.10L121.50,128.10zM135.90,101.30H137.50A0.8,0.8 0 0 1 138.30,102.10V111.80A0.8,0.8 0 0 1 137.50,112.60H135.90A0.3,0.3 0 0 1 135.60,112.30V101.60A0.3,0.3 0 0 1 135.90,101.30zM135.60,116.80L138.90,116.80L139.70,118.60L139.70,133.10L135.60,133.10zM151.00,101.30H153.40A0.6,0.6 0 0 1 154.00,101.90V127.50A0.6,0.6 0 0 1 153.40,128.10H151.00A0.6,0.6 0 0 1 150.40,127.50V101.90A0.6,0.6 0 0 1 151.00,101.30zM165.30,101.30L168.30,101.30L168.30,106.90L173.00,106.90L173.00,111.00L165.30,111.00zM160.60,115.60L168.30,115.60L168.30,128.10L165.30,128.10L165.30,122.50L160.60,122.50zM180.20,101.30L183.40,101.30L183.40,106.90L188.10,106.90L188.10,111.00L180.20,111.00zM175.50,115.60L183.40,115.60L183.40,128.10L180.20,128.10L180.20,122.50L175.50,122.50zM195.50,101.30H196.90A0.8,0.8 0 0 1 197.70,102.10V111.80A0.8,0.8 0 0 1 196.90,112.60H195.50A0.3,0.3 0 0 1 195.20,112.30V101.60A0.3,0.3 0 0 1 195.50,101.30zM195.20,116.80L198.50,116.80L199.30,118.60L199.30,133.10L195.20,133.10zM210.60,101.30H212.60A0.6,0.6 0 0 1 213.20,101.90V127.50A0.6,0.6 0 0 1 212.60,128.10H210.60A0.6,0.6 0 0 1 210.00,127.50V101.90A0.6,0.6 0 0 1 210.60,101.30zM226.95,101.70L227.95,101.70L229.55,121.00L225.35,121.00zM225.25,125.40L229.65,125.40L229.65,133.10L225.25,133.10zM240.90,101.30H243.40A0.6,0.6 0 0 1 244.00,101.90V127.50A0.6,0.6 0 0 1 243.40,128.10H240.90A0.4,0.4 0 0 1 240.50,127.70V101.70A0.4,0.4 0 0 1 240.90,101.30zM255.70,101.30L259.30,101.30L259.30,106.90L264.00,106.90L264.00,111.00L255.70,111.00zM251.00,115.60L259.30,115.60L259.30,128.10L255.70,128.10L255.70,122.50L251.00,122.50z" fill="#fff"/>
<circle cx="127.3" cy="110.6" r="1.5" fill="#111"/>
<line x1="104" y1="111.2" x2="127.2" y2="121.3" stroke="#fff" stroke-width="5" stroke-linecap="round"/>
<path d="M98,108.4 L127.2,120.2 L126.6,122.4 Z" fill="#1c4fac" stroke="#1c4fac" stroke-width="1.2" stroke-linejoin="round"/>
<!-- CLASSIC -->
<line x1="113.1" y1="145.4" x2="140.5" y2="145.4" stroke="#111" stroke-width="1.3"/>
<line x1="234.2" y1="145.4" x2="263.9" y2="145.4" stroke="#111" stroke-width="1.3"/>
<text x="144" y="151.7" font-family="Liberation Serif, serif" font-weight="bold" font-size="18" fill="#111" stroke="#111" stroke-width="0.5" letter-spacing="1.2">CLASSIC</text>
<!-- bottom band -->
<rect x="42.4" y="169.1" width="228.9" height="3.2" fill="#1c4fac"/>
<!-- bottom V -->
<polygon points="133.2,171.5 181.2,171.5 167,188 147,188" fill="#1c4fac"/>
<polygon points="142.2,172.7 149.2,172.7 156.8,175.8 164.5,172.7 171.7,172.7 160,184 154,184" fill="#fff"/>
<circle cx="156.9" cy="193.5" r="14.2" fill="#1c4fac"/>
<polygon points="152.7,190.2 161.2,190.2 161.2,195 157,198.8 152.7,195" fill="#fff"/>
</g>

</svg>
</body></html>
